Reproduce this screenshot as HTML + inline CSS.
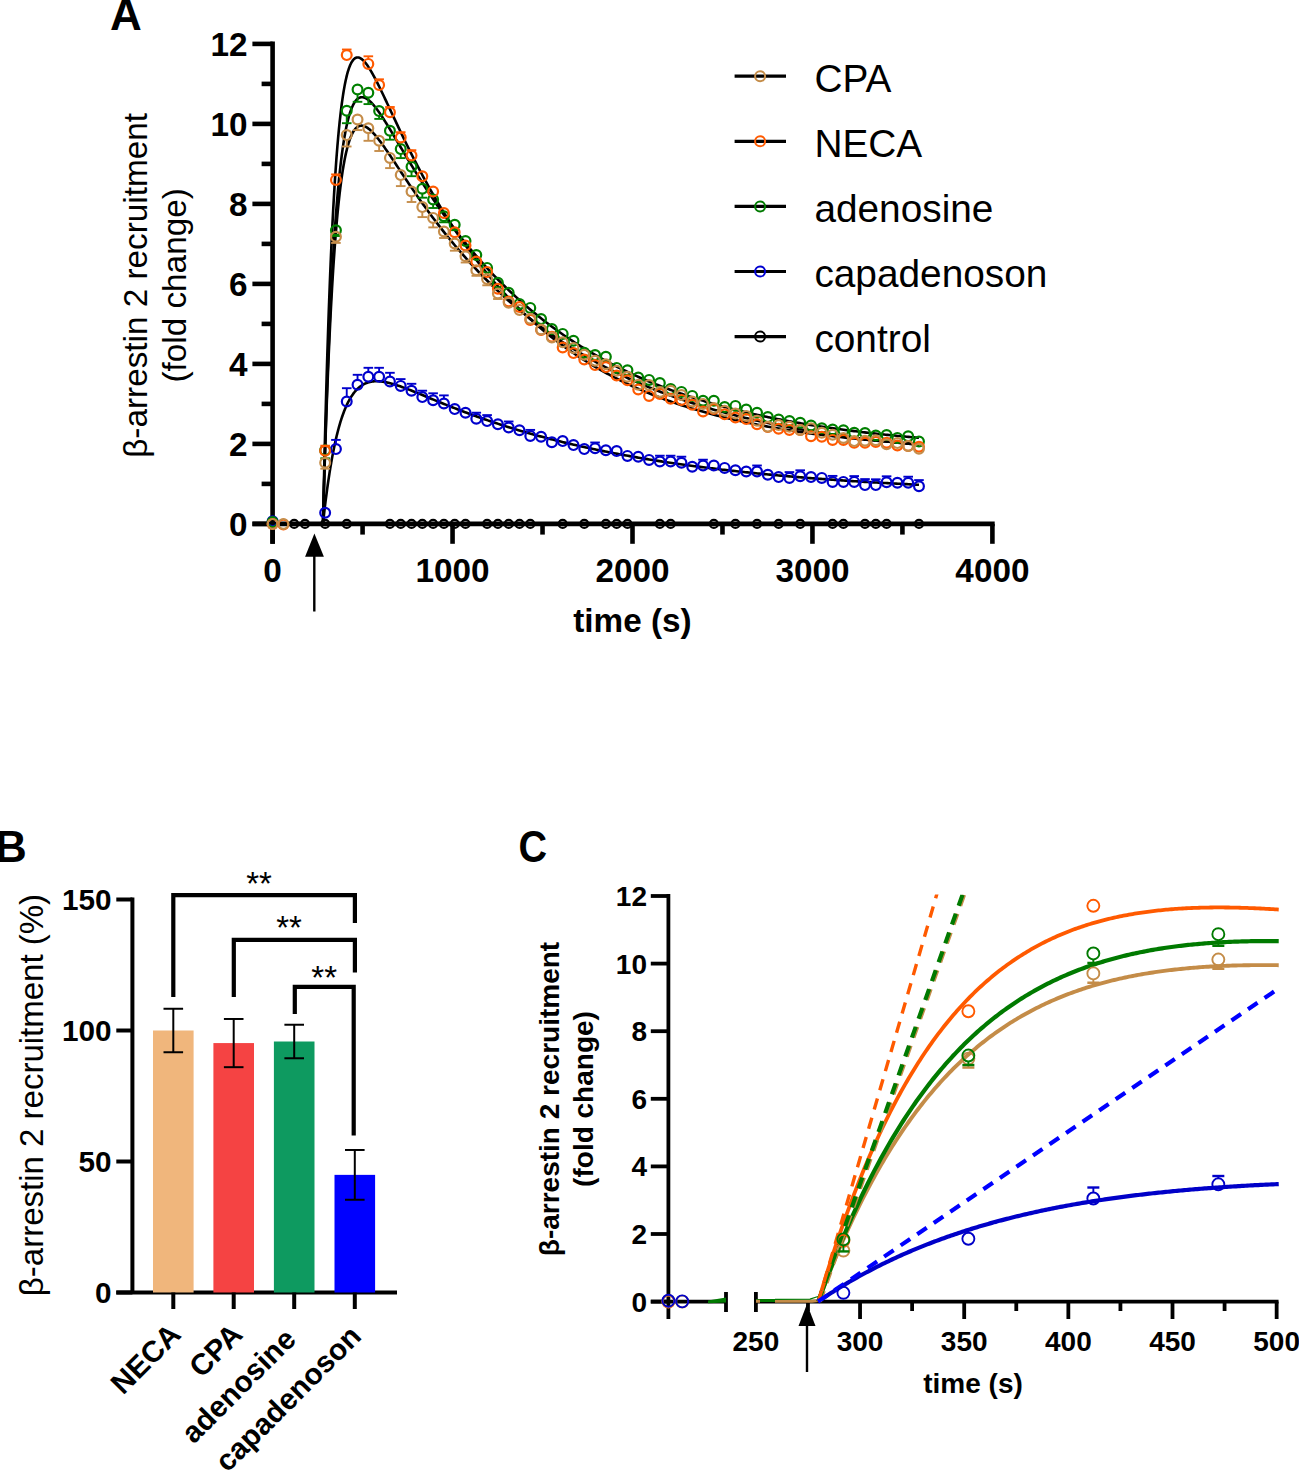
<!DOCTYPE html>
<html><head><meta charset="utf-8"><style>
html,body{margin:0;padding:0;background:#fff;}
svg{display:block;}
text{font-family:"Liberation Sans", sans-serif;fill:#000;}
</style></head><body>
<svg width="1299" height="1470" viewBox="0 0 1299 1470">
<text x="110.1" y="29.9" font-size="44" font-weight="bold">A</text>
<line x1="272.6" y1="41.59999999999998" x2="272.6" y2="543.8" stroke="#000" stroke-width="4.6"/>
<line x1="252.4" y1="523.9" x2="272.6" y2="523.9" stroke="#000" stroke-width="4.6"/>
<text x="247.5" y="535.6999999999999" font-size="33.3" font-weight="bold" text-anchor="end">0</text>
<line x1="261.6" y1="483.9" x2="272.6" y2="483.9" stroke="#000" stroke-width="4.6"/>
<line x1="252.4" y1="443.9" x2="272.6" y2="443.9" stroke="#000" stroke-width="4.6"/>
<text x="247.5" y="455.7" font-size="33.3" font-weight="bold" text-anchor="end">2</text>
<line x1="261.6" y1="403.9" x2="272.6" y2="403.9" stroke="#000" stroke-width="4.6"/>
<line x1="252.4" y1="363.9" x2="272.6" y2="363.9" stroke="#000" stroke-width="4.6"/>
<text x="247.5" y="375.7" font-size="33.3" font-weight="bold" text-anchor="end">4</text>
<line x1="261.6" y1="323.9" x2="272.6" y2="323.9" stroke="#000" stroke-width="4.6"/>
<line x1="252.4" y1="283.9" x2="272.6" y2="283.9" stroke="#000" stroke-width="4.6"/>
<text x="247.5" y="295.7" font-size="33.3" font-weight="bold" text-anchor="end">6</text>
<line x1="261.6" y1="243.89999999999998" x2="272.6" y2="243.89999999999998" stroke="#000" stroke-width="4.6"/>
<line x1="252.4" y1="203.89999999999998" x2="272.6" y2="203.89999999999998" stroke="#000" stroke-width="4.6"/>
<text x="247.5" y="215.7" font-size="33.3" font-weight="bold" text-anchor="end">8</text>
<line x1="261.6" y1="163.89999999999998" x2="272.6" y2="163.89999999999998" stroke="#000" stroke-width="4.6"/>
<line x1="252.4" y1="123.89999999999998" x2="272.6" y2="123.89999999999998" stroke="#000" stroke-width="4.6"/>
<text x="247.5" y="135.7" font-size="33.3" font-weight="bold" text-anchor="end">10</text>
<line x1="261.6" y1="83.89999999999998" x2="272.6" y2="83.89999999999998" stroke="#000" stroke-width="4.6"/>
<line x1="252.4" y1="43.89999999999998" x2="272.6" y2="43.89999999999998" stroke="#000" stroke-width="4.6"/>
<text x="247.5" y="55.699999999999974" font-size="33.3" font-weight="bold" text-anchor="end">12</text>
<line x1="252.4" y1="523.9" x2="994.6999999999999" y2="523.9" stroke="#000" stroke-width="4.6"/>
<line x1="272.6" y1="523.9" x2="272.6" y2="543.8" stroke="#000" stroke-width="4.6"/>
<text x="272.6" y="582" font-size="33.3" font-weight="bold" text-anchor="middle">0</text>
<line x1="362.57500000000005" y1="523.9" x2="362.57500000000005" y2="534.6" stroke="#000" stroke-width="4.6"/>
<line x1="452.55" y1="523.9" x2="452.55" y2="543.8" stroke="#000" stroke-width="4.6"/>
<text x="452.55" y="582" font-size="33.3" font-weight="bold" text-anchor="middle">1000</text>
<line x1="542.5250000000001" y1="523.9" x2="542.5250000000001" y2="534.6" stroke="#000" stroke-width="4.6"/>
<line x1="632.5" y1="523.9" x2="632.5" y2="543.8" stroke="#000" stroke-width="4.6"/>
<text x="632.5" y="582" font-size="33.3" font-weight="bold" text-anchor="middle">2000</text>
<line x1="722.475" y1="523.9" x2="722.475" y2="534.6" stroke="#000" stroke-width="4.6"/>
<line x1="812.45" y1="523.9" x2="812.45" y2="543.8" stroke="#000" stroke-width="4.6"/>
<text x="812.45" y="582" font-size="33.3" font-weight="bold" text-anchor="middle">3000</text>
<line x1="902.4250000000001" y1="523.9" x2="902.4250000000001" y2="534.6" stroke="#000" stroke-width="4.6"/>
<line x1="992.4" y1="523.9" x2="992.4" y2="543.8" stroke="#000" stroke-width="4.6"/>
<text x="992.4" y="582" font-size="33.3" font-weight="bold" text-anchor="middle">4000</text>
<text x="632.5" y="631.5" font-size="33.3" font-weight="bold" text-anchor="middle">time (s)</text>
<text transform="translate(146.6,285.4) rotate(-90)" font-size="33.3" text-anchor="middle">β-arrestin 2 recruitment</text>
<text transform="translate(186.4,285.4) rotate(-90)" font-size="33.3" text-anchor="middle">(fold change)</text>
<line x1="314.3" y1="552" x2="314.3" y2="611.5" stroke="#000" stroke-width="2.4"/>
<polygon points="314.4,533.6 305.1,556.8 323.9,556.8" fill="#000"/>
<line x1="734.6" y1="76.19999999999999" x2="786" y2="76.19999999999999" stroke="#000" stroke-width="3.2"/>
<circle cx="760.1" cy="76.19999999999999" r="5" fill="none" stroke="#C48C48" stroke-width="2"/>
<text x="814.4" y="91.6" font-size="38.8">CPA</text>
<line x1="734.6" y1="141.29999999999998" x2="786" y2="141.29999999999998" stroke="#000" stroke-width="3.2"/>
<circle cx="760.1" cy="141.29999999999998" r="5" fill="none" stroke="#FF5A00" stroke-width="2"/>
<text x="814.4" y="156.7" font-size="38.8">NECA</text>
<line x1="734.6" y1="206.39999999999998" x2="786" y2="206.39999999999998" stroke="#000" stroke-width="3.2"/>
<circle cx="760.1" cy="206.39999999999998" r="5" fill="none" stroke="#007A00" stroke-width="2"/>
<text x="814.4" y="221.79999999999998" font-size="38.8">adenosine</text>
<line x1="734.6" y1="271.5" x2="786" y2="271.5" stroke="#000" stroke-width="3.2"/>
<circle cx="760.1" cy="271.5" r="5" fill="none" stroke="#0000D0" stroke-width="2"/>
<text x="814.4" y="286.9" font-size="38.8">capadenoson</text>
<line x1="734.6" y1="336.6" x2="786" y2="336.6" stroke="#000" stroke-width="3.2"/>
<circle cx="760.1" cy="336.6" r="5" fill="none" stroke="#000000" stroke-width="2"/>
<text x="814.4" y="352.0" font-size="38.8">control</text>
<text x="-5.1" y="862.3" font-size="44" font-weight="bold">B</text>
<line x1="132.4" y1="897.5" x2="132.4" y2="1292.5" stroke="#000" stroke-width="4.0"/>
<line x1="116.3" y1="1292.5" x2="132.4" y2="1292.5" stroke="#000" stroke-width="4.0"/>
<text x="111.5" y="1303.0" font-size="29.7" font-weight="bold" text-anchor="end">0</text>
<line x1="116.3" y1="1161.5" x2="132.4" y2="1161.5" stroke="#000" stroke-width="4.0"/>
<text x="111.5" y="1172.0" font-size="29.7" font-weight="bold" text-anchor="end">50</text>
<line x1="116.3" y1="1030.5" x2="132.4" y2="1030.5" stroke="#000" stroke-width="4.0"/>
<text x="111.5" y="1041.0" font-size="29.7" font-weight="bold" text-anchor="end">100</text>
<line x1="116.3" y1="899.5" x2="132.4" y2="899.5" stroke="#000" stroke-width="4.0"/>
<text x="111.5" y="910.0" font-size="29.7" font-weight="bold" text-anchor="end">150</text>
<line x1="116.3" y1="1292.5" x2="397" y2="1292.5" stroke="#000" stroke-width="4.0"/>
<rect x="153.0" y="1030.5" width="40.6" height="262.0" fill="#F0B67C"/>
<rect x="213.39999999999998" y="1043.076" width="40.6" height="249.42399999999998" fill="#F54343"/>
<rect x="273.9" y="1041.504" width="40.6" height="250.9960000000001" fill="#0E9A60"/>
<rect x="334.5" y="1174.862" width="40.6" height="117.63799999999992" fill="#0000FF"/>
<line x1="173.3" y1="1008.754" x2="173.3" y2="1052.246" stroke="#000" stroke-width="2"/>
<line x1="163.5" y1="1008.754" x2="183.10000000000002" y2="1008.754" stroke="#000" stroke-width="2"/>
<line x1="163.5" y1="1052.246" x2="183.10000000000002" y2="1052.246" stroke="#000" stroke-width="2"/>
<line x1="173.3" y1="1292.5" x2="173.3" y2="1309" stroke="#000" stroke-width="4.0"/>
<line x1="233.7" y1="1018.972" x2="233.7" y2="1067.18" stroke="#000" stroke-width="2"/>
<line x1="223.89999999999998" y1="1018.972" x2="243.5" y2="1018.972" stroke="#000" stroke-width="2"/>
<line x1="223.89999999999998" y1="1067.18" x2="243.5" y2="1067.18" stroke="#000" stroke-width="2"/>
<line x1="233.7" y1="1292.5" x2="233.7" y2="1309" stroke="#000" stroke-width="4.0"/>
<line x1="294.2" y1="1024.7359999999999" x2="294.2" y2="1058.272" stroke="#000" stroke-width="2"/>
<line x1="284.4" y1="1024.7359999999999" x2="304.0" y2="1024.7359999999999" stroke="#000" stroke-width="2"/>
<line x1="284.4" y1="1058.272" x2="304.0" y2="1058.272" stroke="#000" stroke-width="2"/>
<line x1="294.2" y1="1292.5" x2="294.2" y2="1309" stroke="#000" stroke-width="4.0"/>
<line x1="354.8" y1="1149.972" x2="354.8" y2="1199.752" stroke="#000" stroke-width="2"/>
<line x1="345.0" y1="1149.972" x2="364.6" y2="1149.972" stroke="#000" stroke-width="2"/>
<line x1="345.0" y1="1199.752" x2="364.6" y2="1199.752" stroke="#000" stroke-width="2"/>
<line x1="354.8" y1="1292.5" x2="354.8" y2="1309" stroke="#000" stroke-width="4.0"/>
<polyline points="173.3,997 173.3,895.2 354.9,895.2 354.9,923" fill="none" stroke="#000" stroke-width="4.2" stroke-linejoin="miter" stroke-linecap="butt"/>
<polyline points="233.8,997 233.8,939.8 354.9,939.8 354.9,972.4" fill="none" stroke="#000" stroke-width="4.2" stroke-linejoin="miter" stroke-linecap="butt"/>
<polyline points="294.8,1014 294.8,986.8 353.7,986.8 353.7,1135.6" fill="none" stroke="#000" stroke-width="4.2" stroke-linejoin="miter" stroke-linecap="butt"/>
<text x="259" y="895" font-size="33" text-anchor="middle">**</text>
<text x="289" y="939" font-size="33" text-anchor="middle">**</text>
<text x="324.2" y="989" font-size="33" text-anchor="middle">**</text>
<text transform="translate(43.1,1095) rotate(-90)" font-size="33" text-anchor="middle">β-arrestin 2 recruitment (%)</text>
<text transform="translate(182.5,1336.2) rotate(-45)" font-size="29.7" font-weight="bold" text-anchor="end">NECA</text>
<text transform="translate(244.2,1336.2) rotate(-45)" font-size="29.7" font-weight="bold" text-anchor="end">CPA</text>
<text transform="translate(297.6,1341.0) rotate(-45)" font-size="29.7" font-weight="bold" text-anchor="end">adenosine</text>
<text transform="translate(362.8,1338.0) rotate(-45)" font-size="29.7" font-weight="bold" text-anchor="end">capadenoson</text>
<text transform="translate(518.4,861.7) scale(0.91,1)" font-size="43.5" font-weight="bold">C</text>
<line x1="668.4" y1="894.1" x2="668.4" y2="1319" stroke="#000" stroke-width="3.8"/>
<line x1="650.8" y1="1301.6" x2="668.4" y2="1301.6" stroke="#000" stroke-width="3.8"/>
<text x="647" y="1311.6" font-size="28" font-weight="bold" text-anchor="end">0</text>
<line x1="650.8" y1="1234.0" x2="668.4" y2="1234.0" stroke="#000" stroke-width="3.8"/>
<text x="647" y="1244.0" font-size="28" font-weight="bold" text-anchor="end">2</text>
<line x1="650.8" y1="1166.3999999999999" x2="668.4" y2="1166.3999999999999" stroke="#000" stroke-width="3.8"/>
<text x="647" y="1176.3999999999999" font-size="28" font-weight="bold" text-anchor="end">4</text>
<line x1="650.8" y1="1098.8" x2="668.4" y2="1098.8" stroke="#000" stroke-width="3.8"/>
<text x="647" y="1108.8" font-size="28" font-weight="bold" text-anchor="end">6</text>
<line x1="650.8" y1="1031.1999999999998" x2="668.4" y2="1031.1999999999998" stroke="#000" stroke-width="3.8"/>
<text x="647" y="1041.1999999999998" font-size="28" font-weight="bold" text-anchor="end">8</text>
<line x1="650.8" y1="963.5999999999999" x2="668.4" y2="963.5999999999999" stroke="#000" stroke-width="3.8"/>
<text x="647" y="973.5999999999999" font-size="28" font-weight="bold" text-anchor="end">10</text>
<line x1="650.8" y1="896.0" x2="668.4" y2="896.0" stroke="#000" stroke-width="3.8"/>
<text x="647" y="906.0" font-size="28" font-weight="bold" text-anchor="end">12</text>
<line x1="650.8" y1="1301.6" x2="726" y2="1301.6" stroke="#000" stroke-width="3.8"/>
<line x1="726" y1="1292" x2="726" y2="1312" stroke="#000" stroke-width="3.8"/>
<line x1="755.9" y1="1292" x2="755.9" y2="1312" stroke="#000" stroke-width="3.8"/>
<line x1="755.9" y1="1301.6" x2="1278.5500000000002" y2="1301.6" stroke="#000" stroke-width="3.8"/>
<line x1="807.975" y1="1301.6" x2="807.975" y2="1311" stroke="#000" stroke-width="3.8"/>
<line x1="860.05" y1="1301.6" x2="860.05" y2="1319" stroke="#000" stroke-width="3.8"/>
<line x1="912.125" y1="1301.6" x2="912.125" y2="1311" stroke="#000" stroke-width="3.8"/>
<line x1="964.2" y1="1301.6" x2="964.2" y2="1319" stroke="#000" stroke-width="3.8"/>
<line x1="1016.275" y1="1301.6" x2="1016.275" y2="1311" stroke="#000" stroke-width="3.8"/>
<line x1="1068.35" y1="1301.6" x2="1068.35" y2="1319" stroke="#000" stroke-width="3.8"/>
<line x1="1120.425" y1="1301.6" x2="1120.425" y2="1311" stroke="#000" stroke-width="3.8"/>
<line x1="1172.5" y1="1301.6" x2="1172.5" y2="1319" stroke="#000" stroke-width="3.8"/>
<line x1="1224.575" y1="1301.6" x2="1224.575" y2="1311" stroke="#000" stroke-width="3.8"/>
<line x1="1276.65" y1="1301.6" x2="1276.65" y2="1319" stroke="#000" stroke-width="3.8"/>
<text x="755.9" y="1350.9" font-size="28" font-weight="bold" text-anchor="middle">250</text>
<text x="860.05" y="1350.9" font-size="28" font-weight="bold" text-anchor="middle">300</text>
<text x="964.2" y="1350.9" font-size="28" font-weight="bold" text-anchor="middle">350</text>
<text x="1068.35" y="1350.9" font-size="28" font-weight="bold" text-anchor="middle">400</text>
<text x="1172.5" y="1350.9" font-size="28" font-weight="bold" text-anchor="middle">450</text>
<text x="1276.65" y="1350.9" font-size="28" font-weight="bold" text-anchor="middle">500</text>
<text x="973" y="1393" font-size="28" font-weight="bold" text-anchor="middle">time (s)</text>
<text transform="translate(559,1099) rotate(-90)" font-size="28" font-weight="bold" text-anchor="middle">β-arrestin 2 recruitment</text>
<text transform="translate(593,1099) rotate(-90)" font-size="28" font-weight="bold" text-anchor="middle">(fold change)</text>
<line x1="807" y1="1320" x2="807" y2="1372" stroke="#000" stroke-width="2.4"/>
<polygon points="807,1304 798.5,1326 815.5,1326" fill="#000"/>
<polyline points="322.99,523.90 323.35,507.12 323.71,490.88 324.07,475.14 324.43,459.91 324.79,445.16 325.16,430.88 325.52,417.05 325.88,403.67 326.24,390.71 326.60,378.18 326.96,366.04 327.33,354.30 327.69,342.94 328.05,331.95 328.41,321.31 328.77,311.03 329.14,301.08 329.50,291.46 329.86,282.15 330.22,273.16 330.58,264.46 330.94,256.05 331.31,247.93 331.67,240.07 332.03,232.49 332.39,225.16 332.75,218.07 333.11,211.24 333.48,204.63 333.84,198.25 334.20,192.10 334.56,186.16 334.92,180.43 335.28,174.89 335.65,169.56 336.01,164.41 336.37,159.45 336.73,154.67 337.09,150.06 337.45,145.62 337.82,141.35 338.18,137.23 338.54,133.26 338.90,129.45 339.26,125.77 339.62,122.24 339.99,118.85 340.35,115.59 340.71,112.45 341.07,109.44 341.43,106.55 341.79,103.78 342.16,101.11 342.52,98.56 342.88,96.12 343.24,93.78 343.60,91.54 343.97,89.40 344.33,87.35 344.69,85.39 345.05,83.52 345.41,81.74 345.77,80.04 346.14,78.42 346.50,76.88 346.86,75.41 347.22,74.02 347.58,72.70 347.94,71.45 348.31,70.27 348.67,69.15 349.03,68.10 349.39,67.10 349.75,66.17 350.11,65.29 350.48,64.47 350.84,63.71 351.20,62.99 351.56,62.33 351.92,61.71 352.28,61.15 352.65,60.63 353.01,60.15 353.37,59.72 353.73,59.33 354.09,58.98 354.45,58.67 354.82,58.39 355.18,58.16 355.54,57.96 355.90,57.79 356.26,57.66 356.62,57.56 356.99,57.50 357.35,57.46 357.71,57.45 358.07,57.48 358.43,57.52 358.80,57.60 359.16,57.70 359.52,57.83 359.88,57.98 360.24,58.16 360.60,58.36 360.97,58.58 361.33,58.82 361.69,59.08 362.05,59.36 362.41,59.66 362.77,59.98 363.14,60.32 363.50,60.68 363.86,61.05 364.22,61.44 364.58,61.84 364.94,62.26 365.31,62.70 365.67,63.15 366.03,63.61 366.39,64.09 366.75,64.57 367.11,65.07 367.48,65.59 367.84,66.11 368.20,66.65 368.56,67.19 368.92,67.75 369.28,68.32 369.65,68.89 370.01,69.48 370.37,70.07 370.73,70.68 371.09,71.29 371.45,71.91 371.82,72.53 372.18,73.17 372.54,73.81 372.90,74.46 373.26,75.11 373.63,75.78 373.99,76.44 374.35,77.12 374.71,77.80 375.07,78.48 375.43,79.17 375.80,79.86 376.16,80.56 376.52,81.27 376.88,81.97 377.24,82.69 377.60,83.40 377.97,84.12 378.33,84.85 378.69,85.57 379.05,86.30 379.41,87.04 379.77,87.77 380.14,88.51 380.50,89.25 380.86,90.00 381.22,90.75 381.58,91.49 381.94,92.25 382.31,93.00 382.67,93.75 383.03,94.51 383.39,95.27 383.75,96.03 384.11,96.79 384.48,97.56 384.84,98.32 385.20,99.09 385.56,99.85 385.92,100.62 386.28,101.39 386.65,102.16 387.01,102.93 387.37,103.70 387.73,104.47 388.09,105.24 388.46,106.02 388.82,106.79 389.18,107.56 389.54,108.34 389.90,109.11 390.26,109.88 390.63,110.66 390.99,111.43 391.35,112.20 391.71,112.98 392.07,113.75 392.43,114.52 392.80,115.30 393.16,116.07 393.52,116.84 393.88,117.61 394.24,118.39 394.60,119.16 394.97,119.93 396.72,123.65 398.47,127.36 400.22,131.05 401.98,134.71 403.73,138.35 405.48,141.96 407.23,145.54 408.99,149.09 410.74,152.61 412.49,156.09 414.24,159.54 416.00,162.96 417.75,166.34 419.50,169.69 421.25,173.00 423.01,176.28 424.76,179.52 426.51,182.73 428.26,185.90 430.02,189.03 431.77,192.13 433.52,195.20 435.27,198.23 437.03,201.22 438.78,204.19 440.53,207.11 442.29,210.01 444.04,212.87 445.79,215.69 447.54,218.49 449.30,221.25 451.05,223.98 452.80,226.68 454.55,229.35 456.31,231.98 458.06,234.59 459.81,237.16 461.56,239.71 463.32,242.22 465.07,244.71 466.82,247.16 468.57,249.59 470.33,251.99 472.08,254.36 473.83,256.70 475.58,259.02 477.34,261.30 479.09,263.57 480.84,265.80 482.59,268.01 484.35,270.19 486.10,272.35 487.85,274.48 489.60,276.59 491.36,278.67 493.11,280.73 494.86,282.76 496.61,284.77 498.37,286.75 500.12,288.72 501.87,290.66 503.62,292.57 505.38,294.47 507.13,296.34 508.88,298.19 510.63,300.02 512.39,301.82 514.14,303.61 515.89,305.37 517.64,307.12 519.40,308.84 521.15,310.54 522.90,312.23 524.66,313.89 526.41,315.53 528.16,317.16 529.91,318.76 531.67,320.35 533.42,321.91 535.17,323.46 536.92,325.00 538.68,326.51 540.43,328.00 542.18,329.48 543.93,330.94 545.69,332.38 547.44,333.81 549.19,335.22 550.94,336.61 552.70,337.99 554.45,339.35 556.20,340.69 557.95,342.02 559.71,343.34 561.46,344.63 563.21,345.92 564.96,347.18 566.72,348.43 568.47,349.67 570.22,350.89 571.97,352.10 573.73,353.30 575.48,354.48 577.23,355.64 578.98,356.80 580.74,357.94 582.49,359.06 584.24,360.18 585.99,361.27 587.75,362.36 589.50,363.44 591.25,364.50 593.00,365.55 594.76,366.58 596.51,367.61 598.26,368.62 600.02,369.62 601.77,370.61 603.52,371.58 605.27,372.55 607.03,373.50 608.78,374.45 610.53,375.38 612.28,376.30 614.04,377.21 615.79,378.11 617.54,379.00 619.29,379.88 621.05,380.74 622.80,381.60 624.55,382.45 626.30,383.29 628.06,384.12 629.81,384.93 631.56,385.74 633.31,386.54 635.07,387.33 636.82,388.11 638.57,388.88 640.32,389.64 642.08,390.40 643.83,391.14 645.58,391.88 647.33,392.60 649.09,393.32 650.84,394.03 652.59,394.73 654.34,395.43 656.10,396.11 657.85,396.79 659.60,397.46 661.35,398.12 663.11,398.77 664.86,399.42 666.61,400.06 668.36,400.69 670.12,401.31 671.87,401.93 673.62,402.54 675.38,403.14 677.13,403.73 678.88,404.32 680.63,404.90 682.39,405.48 684.14,406.04 685.89,406.60 687.64,407.16 689.40,407.71 691.15,408.25 692.90,408.78 694.65,409.31 696.41,409.83 698.16,410.35 699.91,410.86 701.66,411.36 703.42,411.86 705.17,412.35 706.92,412.84 708.67,413.32 710.43,413.79 712.18,414.26 713.93,414.73 715.68,415.18 717.44,415.64 719.19,416.09 720.94,416.53 722.69,416.97 724.45,417.40 726.20,417.82 727.95,418.25 729.70,418.66 731.46,419.08 733.21,419.48 734.96,419.89 736.71,420.28 738.47,420.68 740.22,421.06 741.97,421.45 743.72,421.83 745.48,422.20 747.23,422.57 748.98,422.94 750.73,423.30 752.49,423.66 754.24,424.01 755.99,424.36 757.75,424.71 759.50,425.05 761.25,425.39 763.00,425.72 764.76,426.05 766.51,426.37 768.26,426.69 770.01,427.01 771.77,427.33 773.52,427.64 775.27,427.94 777.02,428.25 778.78,428.55 780.53,428.84 782.28,429.13 784.03,429.42 785.79,429.71 787.54,429.99 789.29,430.27 791.04,430.55 792.80,430.82 794.55,431.09 796.30,431.35 798.05,431.62 799.81,431.88 801.56,432.13 803.31,432.39 805.06,432.64 806.82,432.89 808.57,433.13 810.32,433.37 812.07,433.61 813.83,433.85 815.58,434.08 817.33,434.31 819.08,434.54 820.84,434.77 822.59,434.99 824.34,435.21 826.09,435.43 827.85,435.64 829.60,435.86 831.35,436.07 833.11,436.27 834.86,436.48 836.61,436.68 838.36,436.88 840.12,437.08 841.87,437.28 843.62,437.47 845.37,437.66 847.13,437.85 848.88,438.04 850.63,438.22 852.38,438.40 854.14,438.58 855.89,438.76 857.64,438.94 859.39,439.11 861.15,439.28 862.90,439.45 864.65,439.62 866.40,439.79 868.16,439.95 869.91,440.11 871.66,440.27 873.41,440.43 875.17,440.59 876.92,440.74 878.67,440.89 880.42,441.05 882.18,441.19 883.93,441.34 885.68,441.49 887.43,441.63 889.19,441.77 890.94,441.91 892.69,442.05 894.44,442.19 896.20,442.33 897.95,442.46 899.70,442.59 901.45,442.72 903.21,442.85 904.96,442.98 906.71,443.11 908.47,443.23 910.22,443.36 911.97,443.48 913.72,443.60 915.48,443.72 917.23,443.83 918.98,443.95" fill="none" stroke="#000" stroke-width="2.6" stroke-linejoin="round"/>
<polyline points="322.99,523.90 323.35,510.11 323.71,496.72 324.07,483.71 324.43,471.07 324.79,458.79 325.16,446.86 325.52,435.28 325.88,424.03 326.24,413.10 326.60,402.49 326.96,392.18 327.33,382.18 327.69,372.47 328.05,363.04 328.41,353.88 328.77,344.99 329.14,336.37 329.50,328.00 329.86,319.87 330.22,311.99 330.58,304.34 330.94,296.92 331.31,289.72 331.67,282.73 332.03,275.96 332.39,269.39 332.75,263.02 333.11,256.84 333.48,250.85 333.84,245.05 334.20,239.42 334.56,233.97 334.92,228.68 335.28,223.56 335.65,218.60 336.01,213.79 336.37,209.14 336.73,204.63 337.09,200.27 337.45,196.05 337.82,191.96 338.18,188.00 338.54,184.18 338.90,180.48 339.26,176.89 339.62,173.43 339.99,170.09 340.35,166.85 340.71,163.72 341.07,160.70 341.43,157.79 341.79,154.97 342.16,152.25 342.52,149.63 342.88,147.10 343.24,144.66 343.60,142.30 343.97,140.03 344.33,137.85 344.69,135.74 345.05,133.72 345.41,131.77 345.77,129.89 346.14,128.09 346.50,126.35 346.86,124.69 347.22,123.09 347.58,121.55 347.94,120.08 348.31,118.67 348.67,117.32 349.03,116.02 349.39,114.79 349.75,113.60 350.11,112.47 350.48,111.40 350.84,110.37 351.20,109.39 351.56,108.46 351.92,107.57 352.28,106.73 352.65,105.94 353.01,105.18 353.37,104.47 353.73,103.80 354.09,103.16 354.45,102.57 354.82,102.01 355.18,101.49 355.54,101.00 355.90,100.55 356.26,100.13 356.62,99.74 356.99,99.38 357.35,99.05 357.71,98.76 358.07,98.49 358.43,98.25 358.80,98.03 359.16,97.84 359.52,97.68 359.88,97.54 360.24,97.43 360.60,97.34 360.97,97.27 361.33,97.23 361.69,97.20 362.05,97.20 362.41,97.22 362.77,97.26 363.14,97.31 363.50,97.39 363.86,97.48 364.22,97.59 364.58,97.72 364.94,97.86 365.31,98.02 365.67,98.19 366.03,98.38 366.39,98.59 366.75,98.81 367.11,99.04 367.48,99.29 367.84,99.55 368.20,99.82 368.56,100.10 368.92,100.40 369.28,100.71 369.65,101.02 370.01,101.35 370.37,101.69 370.73,102.04 371.09,102.40 371.45,102.77 371.82,103.15 372.18,103.54 372.54,103.93 372.90,104.34 373.26,104.75 373.63,105.17 373.99,105.60 374.35,106.04 374.71,106.48 375.07,106.93 375.43,107.39 375.80,107.85 376.16,108.32 376.52,108.79 376.88,109.27 377.24,109.76 377.60,110.25 377.97,110.75 378.33,111.25 378.69,111.76 379.05,112.27 379.41,112.79 379.77,113.31 380.14,113.84 380.50,114.37 380.86,114.90 381.22,115.44 381.58,115.98 381.94,116.53 382.31,117.07 382.67,117.63 383.03,118.18 383.39,118.74 383.75,119.30 384.11,119.86 384.48,120.43 384.84,121.00 385.20,121.57 385.56,122.14 385.92,122.72 386.28,123.30 386.65,123.88 387.01,124.46 387.37,125.05 387.73,125.63 388.09,126.22 388.46,126.81 388.82,127.40 389.18,127.99 389.54,128.59 389.90,129.18 390.26,129.78 390.63,130.38 390.99,130.97 391.35,131.57 391.71,132.18 392.07,132.78 392.43,133.38 392.80,133.98 393.16,134.59 393.52,135.19 393.88,135.80 394.24,136.40 394.60,137.01 394.97,137.62 396.72,140.57 398.47,143.52 400.22,146.47 401.98,149.42 403.73,152.37 405.48,155.31 407.23,158.23 408.99,161.14 410.74,164.03 412.49,166.91 414.24,169.77 416.00,172.61 417.75,175.43 419.50,178.22 421.25,181.00 423.01,183.75 424.76,186.48 426.51,189.18 428.26,191.86 430.02,194.52 431.77,197.15 433.52,199.76 435.27,202.34 437.03,204.90 438.78,207.43 440.53,209.94 442.29,212.43 444.04,214.89 445.79,217.32 447.54,219.74 449.30,222.12 451.05,224.49 452.80,226.83 454.55,229.14 456.31,231.44 458.06,233.71 459.81,235.95 461.56,238.18 463.32,240.38 465.07,242.56 466.82,244.72 468.57,246.85 470.33,248.97 472.08,251.06 473.83,253.13 475.58,255.18 477.34,257.20 479.09,259.21 480.84,261.20 482.59,263.16 484.35,265.11 486.10,267.04 487.85,268.94 489.60,270.83 491.36,272.70 493.11,274.54 494.86,276.37 496.61,278.18 498.37,279.97 500.12,281.75 501.87,283.50 503.62,285.24 505.38,286.96 507.13,288.66 508.88,290.34 510.63,292.01 512.39,293.66 514.14,295.29 515.89,296.91 517.64,298.51 519.40,300.09 521.15,301.65 522.90,303.20 524.66,304.74 526.41,306.26 528.16,307.76 529.91,309.25 531.67,310.72 533.42,312.17 535.17,313.62 536.92,315.04 538.68,316.46 540.43,317.85 542.18,319.24 543.93,320.61 545.69,321.96 547.44,323.30 549.19,324.63 550.94,325.94 552.70,327.24 554.45,328.53 556.20,329.80 557.95,331.06 559.71,332.31 561.46,333.54 563.21,334.76 564.96,335.97 566.72,337.17 568.47,338.35 570.22,339.53 571.97,340.69 573.73,341.83 575.48,342.97 577.23,344.10 578.98,345.21 580.74,346.31 582.49,347.40 584.24,348.48 585.99,349.55 587.75,350.60 589.50,351.65 591.25,352.68 593.00,353.71 594.76,354.72 596.51,355.73 598.26,356.72 600.02,357.70 601.77,358.68 603.52,359.64 605.27,360.59 607.03,361.53 608.78,362.47 610.53,363.39 612.28,364.31 614.04,365.21 615.79,366.11 617.54,366.99 619.29,367.87 621.05,368.74 622.80,369.60 624.55,370.45 626.30,371.29 628.06,372.12 629.81,372.95 631.56,373.76 633.31,374.57 635.07,375.37 636.82,376.16 638.57,376.94 640.32,377.72 642.08,378.48 643.83,379.24 645.58,379.99 647.33,380.74 649.09,381.47 650.84,382.20 652.59,382.92 654.34,383.63 656.10,384.34 657.85,385.04 659.60,385.73 661.35,386.41 663.11,387.09 664.86,387.76 666.61,388.43 668.36,389.08 670.12,389.73 671.87,390.37 673.62,391.01 675.38,391.64 677.13,392.26 678.88,392.88 680.63,393.49 682.39,394.10 684.14,394.69 685.89,395.29 687.64,395.87 689.40,396.45 691.15,397.03 692.90,397.59 694.65,398.16 696.41,398.71 698.16,399.26 699.91,399.81 701.66,400.35 703.42,400.88 705.17,401.41 706.92,401.93 708.67,402.45 710.43,402.96 712.18,403.47 713.93,403.97 715.68,404.47 717.44,404.96 719.19,405.44 720.94,405.92 722.69,406.40 724.45,406.87 726.20,407.34 727.95,407.80 729.70,408.26 731.46,408.71 733.21,409.16 734.96,409.60 736.71,410.04 738.47,410.47 740.22,410.90 741.97,411.33 743.72,411.75 745.48,412.16 747.23,412.58 748.98,412.98 750.73,413.39 752.49,413.79 754.24,414.18 755.99,414.57 757.75,414.96 759.50,415.34 761.25,415.72 763.00,416.10 764.76,416.47 766.51,416.84 768.26,417.20 770.01,417.56 771.77,417.92 773.52,418.27 775.27,418.62 777.02,418.96 778.78,419.31 780.53,419.65 782.28,419.98 784.03,420.31 785.79,420.64 787.54,420.96 789.29,421.29 791.04,421.60 792.80,421.92 794.55,422.23 796.30,422.54 798.05,422.84 799.81,423.15 801.56,423.44 803.31,423.74 805.06,424.03 806.82,424.32 808.57,424.61 810.32,424.89 812.07,425.17 813.83,425.45 815.58,425.73 817.33,426.00 819.08,426.27 820.84,426.54 822.59,426.80 824.34,427.06 826.09,427.32 827.85,427.58 829.60,427.83 831.35,428.08 833.11,428.33 834.86,428.57 836.61,428.82 838.36,429.06 840.12,429.30 841.87,429.53 843.62,429.76 845.37,430.00 847.13,430.22 848.88,430.45 850.63,430.67 852.38,430.89 854.14,431.11 855.89,431.33 857.64,431.55 859.39,431.76 861.15,431.97 862.90,432.18 864.65,432.38 866.40,432.59 868.16,432.79 869.91,432.99 871.66,433.18 873.41,433.38 875.17,433.57 876.92,433.77 878.67,433.96 880.42,434.14 882.18,434.33 883.93,434.51 885.68,434.69 887.43,434.87 889.19,435.05 890.94,435.23 892.69,435.40 894.44,435.58 896.20,435.75 897.95,435.92 899.70,436.08 901.45,436.25 903.21,436.41 904.96,436.58 906.71,436.74 908.47,436.89 910.22,437.05 911.97,437.21 913.72,437.36 915.48,437.51 917.23,437.67 918.98,437.81" fill="none" stroke="#000" stroke-width="2.6" stroke-linejoin="round"/>
<polyline points="322.99,523.90 323.35,510.68 323.71,497.85 324.07,485.39 324.43,473.31 324.79,461.58 325.16,450.20 325.52,439.15 325.88,428.44 326.24,418.05 326.60,407.96 326.96,398.18 327.33,388.69 327.69,379.49 328.05,370.56 328.41,361.91 328.77,353.51 329.14,345.37 329.50,337.48 329.86,329.83 330.22,322.42 330.58,315.23 330.94,308.26 331.31,301.51 331.67,294.96 332.03,288.62 332.39,282.48 332.75,276.53 333.11,270.77 333.48,265.18 333.84,259.78 334.20,254.54 334.56,249.47 334.92,244.57 335.28,239.82 335.65,235.22 336.01,230.78 336.37,226.47 336.73,222.31 337.09,218.29 337.45,214.39 337.82,210.63 338.18,206.99 338.54,203.48 338.90,200.08 339.26,196.80 339.62,193.62 339.99,190.56 340.35,187.61 340.71,184.75 341.07,182.00 341.43,179.34 341.79,176.78 342.16,174.31 342.52,171.93 342.88,169.63 343.24,167.42 343.60,165.29 343.97,163.24 344.33,161.27 344.69,159.38 345.05,157.55 345.41,155.80 345.77,154.11 346.14,152.49 346.50,150.94 346.86,149.45 347.22,148.02 347.58,146.66 347.94,145.35 348.31,144.09 348.67,142.89 349.03,141.74 349.39,140.65 349.75,139.60 350.11,138.61 350.48,137.66 350.84,136.76 351.20,135.90 351.56,135.08 351.92,134.31 352.28,133.58 352.65,132.89 353.01,132.24 353.37,131.62 353.73,131.04 354.09,130.50 354.45,129.99 354.82,129.51 355.18,129.07 355.54,128.66 355.90,128.27 356.26,127.92 356.62,127.60 356.99,127.30 357.35,127.04 357.71,126.79 358.07,126.58 358.43,126.39 358.80,126.22 359.16,126.08 359.52,125.96 359.88,125.86 360.24,125.78 360.60,125.72 360.97,125.69 361.33,125.67 361.69,125.67 362.05,125.69 362.41,125.73 362.77,125.79 363.14,125.86 363.50,125.95 363.86,126.06 364.22,126.18 364.58,126.31 364.94,126.46 365.31,126.63 365.67,126.80 366.03,126.99 366.39,127.20 366.75,127.41 367.11,127.64 367.48,127.88 367.84,128.13 368.20,128.39 368.56,128.67 368.92,128.95 369.28,129.24 369.65,129.54 370.01,129.85 370.37,130.17 370.73,130.50 371.09,130.84 371.45,131.19 371.82,131.54 372.18,131.90 372.54,132.27 372.90,132.65 373.26,133.03 373.63,133.42 373.99,133.82 374.35,134.22 374.71,134.63 375.07,135.05 375.43,135.47 375.80,135.89 376.16,136.32 376.52,136.76 376.88,137.20 377.24,137.65 377.60,138.10 377.97,138.55 378.33,139.01 378.69,139.48 379.05,139.95 379.41,140.42 379.77,140.89 380.14,141.37 380.50,141.85 380.86,142.34 381.22,142.83 381.58,143.32 381.94,143.82 382.31,144.31 382.67,144.81 383.03,145.32 383.39,145.82 383.75,146.33 384.11,146.84 384.48,147.35 384.84,147.87 385.20,148.39 385.56,148.90 385.92,149.42 386.28,149.95 386.65,150.47 387.01,151.00 387.37,151.52 387.73,152.05 388.09,152.58 388.46,153.11 388.82,153.65 389.18,154.18 389.54,154.71 389.90,155.25 390.26,155.79 390.63,156.33 390.99,156.86 391.35,157.40 391.71,157.94 392.07,158.49 392.43,159.03 392.80,159.57 393.16,160.11 393.52,160.66 393.88,161.20 394.24,161.74 394.60,162.29 394.97,162.83 396.72,165.48 398.47,168.12 400.22,170.77 401.98,173.41 403.73,176.05 405.48,178.68 407.23,181.30 408.99,183.90 410.74,186.49 412.49,189.07 414.24,191.62 416.00,194.16 417.75,196.69 419.50,199.19 421.25,201.68 423.01,204.14 424.76,206.59 426.51,209.01 428.26,211.42 430.02,213.80 431.77,216.17 433.52,218.51 435.27,220.83 437.03,223.13 438.78,225.41 440.53,227.67 442.29,229.91 444.04,232.13 445.79,234.33 447.54,236.50 449.30,238.66 451.05,240.80 452.80,242.91 454.55,245.01 456.31,247.09 458.06,249.14 459.81,251.18 461.56,253.20 463.32,255.20 465.07,257.18 466.82,259.14 468.57,261.08 470.33,263.01 472.08,264.91 473.83,266.80 475.58,268.67 477.34,270.52 479.09,272.35 480.84,274.17 482.59,275.97 484.35,277.75 486.10,279.51 487.85,281.26 489.60,282.99 491.36,284.70 493.11,286.40 494.86,288.08 496.61,289.75 498.37,291.40 500.12,293.03 501.87,294.65 503.62,296.25 505.38,297.84 507.13,299.41 508.88,300.97 510.63,302.51 512.39,304.04 514.14,305.55 515.89,307.05 517.64,308.53 519.40,310.00 521.15,311.45 522.90,312.89 524.66,314.32 526.41,315.74 528.16,317.14 529.91,318.52 531.67,319.89 533.42,321.26 535.17,322.60 536.92,323.94 538.68,325.26 540.43,326.57 542.18,327.86 543.93,329.15 545.69,330.42 547.44,331.68 549.19,332.92 550.94,334.16 552.70,335.38 554.45,336.59 556.20,337.79 557.95,338.98 559.71,340.16 561.46,341.32 563.21,342.48 564.96,343.62 566.72,344.75 568.47,345.88 570.22,346.99 571.97,348.09 573.73,349.18 575.48,350.25 577.23,351.32 578.98,352.38 580.74,353.43 582.49,354.47 584.24,355.50 585.99,356.51 587.75,357.52 589.50,358.52 591.25,359.51 593.00,360.49 594.76,361.46 596.51,362.42 598.26,363.38 600.02,364.32 601.77,365.25 603.52,366.18 605.27,367.09 607.03,368.00 608.78,368.90 610.53,369.79 612.28,370.67 614.04,371.54 615.79,372.41 617.54,373.26 619.29,374.11 621.05,374.95 622.80,375.78 624.55,376.61 626.30,377.42 628.06,378.23 629.81,379.03 631.56,379.82 633.31,380.61 635.07,381.38 636.82,382.15 638.57,382.92 640.32,383.67 642.08,384.42 643.83,385.16 645.58,385.89 647.33,386.62 649.09,387.34 650.84,388.05 652.59,388.76 654.34,389.46 656.10,390.15 657.85,390.84 659.60,391.52 661.35,392.19 663.11,392.86 664.86,393.52 666.61,394.17 668.36,394.82 670.12,395.46 671.87,396.09 673.62,396.72 675.38,397.34 677.13,397.96 678.88,398.57 680.63,399.18 682.39,399.78 684.14,400.37 685.89,400.96 687.64,401.54 689.40,402.12 691.15,402.69 692.90,403.25 694.65,403.81 696.41,404.37 698.16,404.92 699.91,405.46 701.66,406.00 703.42,406.53 705.17,407.06 706.92,407.59 708.67,408.10 710.43,408.62 712.18,409.13 713.93,409.63 715.68,410.13 717.44,410.62 719.19,411.11 720.94,411.60 722.69,412.08 724.45,412.55 726.20,413.02 727.95,413.49 729.70,413.95 731.46,414.41 733.21,414.86 734.96,415.31 736.71,415.75 738.47,416.19 740.22,416.63 741.97,417.06 743.72,417.49 745.48,417.91 747.23,418.33 748.98,418.75 750.73,419.16 752.49,419.57 754.24,419.97 755.99,420.37 757.75,420.77 759.50,421.16 761.25,421.55 763.00,421.93 764.76,422.31 766.51,422.69 768.26,423.06 770.01,423.43 771.77,423.80 773.52,424.16 775.27,424.52 777.02,424.88 778.78,425.23 780.53,425.58 782.28,425.92 784.03,426.27 785.79,426.61 787.54,426.94 789.29,427.27 791.04,427.60 792.80,427.93 794.55,428.25 796.30,428.57 798.05,428.89 799.81,429.21 801.56,429.52 803.31,429.82 805.06,430.13 806.82,430.43 808.57,430.73 810.32,431.03 812.07,431.32 813.83,431.61 815.58,431.90 817.33,432.18 819.08,432.47 820.84,432.75 822.59,433.02 824.34,433.30 826.09,433.57 827.85,433.84 829.60,434.11 831.35,434.37 833.11,434.63 834.86,434.89 836.61,435.15 838.36,435.40 840.12,435.65 841.87,435.90 843.62,436.15 845.37,436.39 847.13,436.63 848.88,436.87 850.63,437.11 852.38,437.35 854.14,437.58 855.89,437.81 857.64,438.04 859.39,438.26 861.15,438.49 862.90,438.71 864.65,438.93 866.40,439.15 868.16,439.36 869.91,439.58 871.66,439.79 873.41,440.00 875.17,440.21 876.92,440.41 878.67,440.61 880.42,440.82 882.18,441.02 883.93,441.21 885.68,441.41 887.43,441.60 889.19,441.79 890.94,441.99 892.69,442.17 894.44,442.36 896.20,442.54 897.95,442.73 899.70,442.91 901.45,443.09 903.21,443.27 904.96,443.44 906.71,443.62 908.47,443.79 910.22,443.96 911.97,444.13 913.72,444.30 915.48,444.46 917.23,444.63 918.98,444.79" fill="none" stroke="#000" stroke-width="2.6" stroke-linejoin="round"/>
<polyline points="322.95,523.90 323.31,520.57 323.67,517.30 324.04,514.10 324.40,510.97 324.76,507.90 325.12,504.90 325.48,501.96 325.84,499.07 326.21,496.25 326.57,493.49 326.93,490.78 327.29,488.13 327.65,485.54 328.01,483.00 328.38,480.51 328.74,478.07 329.10,475.69 329.46,473.35 329.82,471.07 330.18,468.83 330.55,466.64 330.91,464.50 331.27,462.40 331.63,460.35 331.99,458.34 332.35,456.37 332.72,454.45 333.08,452.56 333.44,450.72 333.80,448.92 334.16,447.15 334.52,445.42 334.89,443.73 335.25,442.08 335.61,440.47 335.97,438.88 336.33,437.34 336.69,435.82 337.06,434.34 337.42,432.90 337.78,431.48 338.14,430.10 338.50,428.75 338.87,427.42 339.23,426.13 339.59,424.87 339.95,423.63 340.31,422.42 340.67,421.24 341.04,420.09 341.40,418.96 341.76,417.86 342.12,416.78 342.48,415.73 342.84,414.71 343.21,413.70 343.57,412.72 343.93,411.77 344.29,410.83 344.65,409.92 345.01,409.03 345.38,408.16 345.74,407.31 346.10,406.48 346.46,405.67 346.82,404.89 347.18,404.12 347.55,403.37 347.91,402.63 348.27,401.92 348.63,401.22 348.99,400.54 349.35,399.88 349.72,399.24 350.08,398.61 350.44,398.00 350.80,397.40 351.16,396.82 351.52,396.25 351.89,395.70 352.25,395.16 352.61,394.64 352.97,394.13 353.33,393.64 353.70,393.16 354.06,392.69 354.42,392.24 354.78,391.79 355.14,391.36 355.50,390.95 355.87,390.54 356.23,390.15 356.59,389.76 356.95,389.39 357.31,389.03 357.67,388.68 358.04,388.35 358.40,388.02 358.76,387.70 359.12,387.39 359.48,387.09 359.84,386.81 360.21,386.53 360.57,386.26 360.93,386.00 361.29,385.74 361.65,385.50 362.01,385.27 362.38,385.04 362.74,384.82 363.10,384.61 363.46,384.41 363.82,384.21 364.18,384.03 364.55,383.85 364.91,383.68 365.27,383.51 365.63,383.35 365.99,383.20 366.36,383.06 366.72,382.92 367.08,382.79 367.44,382.66 367.80,382.54 368.16,382.43 368.53,382.32 368.89,382.22 369.25,382.12 369.61,382.03 369.97,381.95 370.33,381.87 370.70,381.79 371.06,381.72 371.42,381.66 371.78,381.60 372.14,381.55 372.50,381.50 372.87,381.45 373.23,381.41 373.59,381.38 373.95,381.34 374.31,381.32 374.67,381.29 375.04,381.28 375.40,381.26 375.76,381.25 376.12,381.24 376.48,381.24 376.84,381.24 377.21,381.24 377.57,381.25 377.93,381.26 378.29,381.27 378.65,381.29 379.01,381.31 379.38,381.34 379.74,381.36 380.10,381.39 380.46,381.43 380.82,381.46 381.19,381.50 381.55,381.54 381.91,381.59 382.27,381.63 382.63,381.68 382.99,381.74 383.36,381.79 383.72,381.85 384.08,381.91 384.44,381.97 384.80,382.03 385.16,382.10 385.53,382.17 385.89,382.24 386.25,382.31 386.61,382.39 386.97,382.47 387.33,382.54 387.70,382.63 388.06,382.71 388.42,382.79 388.78,382.88 389.14,382.97 389.50,383.06 389.87,383.15 390.23,383.24 390.59,383.34 390.95,383.43 391.31,383.53 391.67,383.63 392.04,383.73 392.40,383.84 392.76,383.94 393.12,384.04 393.48,384.15 393.84,384.26 394.21,384.37 394.57,384.48 394.93,384.59 396.68,385.15 398.44,385.73 400.19,386.33 401.94,386.96 403.69,387.60 405.45,388.26 407.20,388.92 408.95,389.60 410.70,390.30 412.46,390.99 414.21,391.70 415.96,392.41 417.71,393.13 419.47,393.85 421.22,394.57 422.97,395.30 424.73,396.02 426.48,396.75 428.23,397.48 429.98,398.20 431.74,398.93 433.49,399.65 435.24,400.38 436.99,401.10 438.75,401.82 440.50,402.53 442.25,403.25 444.00,403.96 445.76,404.66 447.51,405.37 449.26,406.07 451.02,406.76 452.77,407.45 454.52,408.14 456.27,408.83 458.03,409.50 459.78,410.18 461.53,410.85 463.28,411.52 465.04,412.18 466.79,412.83 468.54,413.49 470.30,414.13 472.05,414.78 473.80,415.42 475.55,416.05 477.31,416.68 479.06,417.30 480.81,417.92 482.56,418.54 484.32,419.15 486.07,419.76 487.82,420.36 489.57,420.95 491.33,421.55 493.08,422.13 494.83,422.72 496.59,423.30 498.34,423.87 500.09,424.44 501.84,425.01 503.60,425.57 505.35,426.12 507.10,426.67 508.85,427.22 510.61,427.77 512.36,428.31 514.11,428.84 515.86,429.37 517.62,429.90 519.37,430.42 521.12,430.94 522.88,431.45 524.63,431.96 526.38,432.47 528.13,432.97 529.89,433.47 531.64,433.96 533.39,434.45 535.14,434.94 536.90,435.42 538.65,435.90 540.40,436.37 542.15,436.84 543.91,437.31 545.66,437.77 547.41,438.23 549.17,438.69 550.92,439.14 552.67,439.59 554.42,440.03 556.18,440.47 557.93,440.91 559.68,441.35 561.43,441.78 563.19,442.20 564.94,442.63 566.69,443.05 568.45,443.47 570.20,443.88 571.95,444.29 573.70,444.70 575.46,445.10 577.21,445.50 578.96,445.90 580.71,446.29 582.47,446.69 584.22,447.07 585.97,447.46 587.72,447.84 589.48,448.22 591.23,448.60 592.98,448.97 594.74,449.34 596.49,449.70 598.24,450.07 599.99,450.43 601.75,450.79 603.50,451.14 605.25,451.50 607.00,451.84 608.76,452.19 610.51,452.54 612.26,452.88 614.01,453.22 615.77,453.55 617.52,453.88 619.27,454.21 621.03,454.54 622.78,454.87 624.53,455.19 626.28,455.51 628.04,455.83 629.79,456.14 631.54,456.45 633.29,456.76 635.05,457.07 636.80,457.38 638.55,457.68 640.30,457.98 642.06,458.28 643.81,458.57 645.56,458.86 647.32,459.15 649.07,459.44 650.82,459.73 652.57,460.01 654.33,460.29 656.08,460.57 657.83,460.85 659.58,461.12 661.34,461.40 663.09,461.67 664.84,461.93 666.59,462.20 668.35,462.46 670.10,462.73 671.85,462.98 673.61,463.24 675.36,463.50 677.11,463.75 678.86,464.00 680.62,464.25 682.37,464.50 684.12,464.74 685.87,464.99 687.63,465.23 689.38,465.47 691.13,465.71 692.89,465.94 694.64,466.17 696.39,466.41 698.14,466.64 699.90,466.86 701.65,467.09 703.40,467.32 705.15,467.54 706.91,467.76 708.66,467.98 710.41,468.20 712.16,468.41 713.92,468.63 715.67,468.84 717.42,469.05 719.18,469.26 720.93,469.46 722.68,469.67 724.43,469.87 726.19,470.08 727.94,470.28 729.69,470.48 731.44,470.67 733.20,470.87 734.95,471.06 736.70,471.26 738.45,471.45 740.21,471.64 741.96,471.82 743.71,472.01 745.47,472.20 747.22,472.38 748.97,472.56 750.72,472.74 752.48,472.92 754.23,473.10 755.98,473.28 757.73,473.45 759.49,473.62 761.24,473.80 762.99,473.97 764.74,474.14 766.50,474.30 768.25,474.47 770.00,474.64 771.76,474.80 773.51,474.96 775.26,475.12 777.01,475.28 778.77,475.44 780.52,475.60 782.27,475.76 784.02,475.91 785.78,476.07 787.53,476.22 789.28,476.37 791.03,476.52 792.79,476.67 794.54,476.82 796.29,476.96 798.05,477.11 799.80,477.25 801.55,477.40 803.30,477.54 805.06,477.68 806.81,477.82 808.56,477.96 810.31,478.09 812.07,478.23 813.82,478.36 815.57,478.50 817.33,478.63 819.08,478.76 820.83,478.89 822.58,479.02 824.34,479.15 826.09,479.28 827.84,479.41 829.59,479.53 831.35,479.66 833.10,479.78 834.85,479.91 836.60,480.03 838.36,480.15 840.11,480.27 841.86,480.39 843.62,480.50 845.37,480.62 847.12,480.74 848.87,480.85 850.63,480.97 852.38,481.08 854.13,481.19 855.88,481.30 857.64,481.41 859.39,481.52 861.14,481.63 862.89,481.74 864.65,481.85 866.40,481.95 868.15,482.06 869.91,482.16 871.66,482.27 873.41,482.37 875.16,482.47 876.92,482.57 878.67,482.67 880.42,482.77 882.17,482.87 883.93,482.97 885.68,483.07 887.43,483.16 889.18,483.26 890.94,483.35 892.69,483.45 894.44,483.54 896.20,483.63 897.95,483.73 899.70,483.82 901.45,483.91 903.21,484.00 904.96,484.09 906.71,484.17 908.46,484.26 910.22,484.35 911.97,484.43 913.72,484.52 915.48,484.61 917.23,484.69 918.98,484.77" fill="none" stroke="#000" stroke-width="2.6" stroke-linejoin="round"/>
<circle cx="294.19" cy="523.90" r="4.0" fill="none" stroke="#000" stroke-width="2.2"/>
<circle cx="304.99" cy="523.90" r="4.0" fill="none" stroke="#000" stroke-width="2.2"/>
<circle cx="325.15" cy="523.90" r="4.0" fill="none" stroke="#000" stroke-width="2.2"/>
<circle cx="346.74" cy="523.90" r="4.0" fill="none" stroke="#000" stroke-width="2.2"/>
<circle cx="389.93" cy="523.90" r="4.0" fill="none" stroke="#000" stroke-width="2.2"/>
<circle cx="400.72" cy="523.90" r="4.0" fill="none" stroke="#000" stroke-width="2.2"/>
<circle cx="411.52" cy="523.90" r="4.0" fill="none" stroke="#000" stroke-width="2.2"/>
<circle cx="422.32" cy="523.90" r="4.0" fill="none" stroke="#000" stroke-width="2.2"/>
<circle cx="433.12" cy="523.90" r="4.0" fill="none" stroke="#000" stroke-width="2.2"/>
<circle cx="443.91" cy="523.90" r="4.0" fill="none" stroke="#000" stroke-width="2.2"/>
<circle cx="454.71" cy="523.90" r="4.0" fill="none" stroke="#000" stroke-width="2.2"/>
<circle cx="465.51" cy="523.90" r="4.0" fill="none" stroke="#000" stroke-width="2.2"/>
<circle cx="487.10" cy="523.90" r="4.0" fill="none" stroke="#000" stroke-width="2.2"/>
<circle cx="497.90" cy="523.90" r="4.0" fill="none" stroke="#000" stroke-width="2.2"/>
<circle cx="508.69" cy="523.90" r="4.0" fill="none" stroke="#000" stroke-width="2.2"/>
<circle cx="519.49" cy="523.90" r="4.0" fill="none" stroke="#000" stroke-width="2.2"/>
<circle cx="530.29" cy="523.90" r="4.0" fill="none" stroke="#000" stroke-width="2.2"/>
<circle cx="562.68" cy="523.90" r="4.0" fill="none" stroke="#000" stroke-width="2.2"/>
<circle cx="584.27" cy="523.90" r="4.0" fill="none" stroke="#000" stroke-width="2.2"/>
<circle cx="605.87" cy="523.90" r="4.0" fill="none" stroke="#000" stroke-width="2.2"/>
<circle cx="616.66" cy="523.90" r="4.0" fill="none" stroke="#000" stroke-width="2.2"/>
<circle cx="627.46" cy="523.90" r="4.0" fill="none" stroke="#000" stroke-width="2.2"/>
<circle cx="659.85" cy="523.90" r="4.0" fill="none" stroke="#000" stroke-width="2.2"/>
<circle cx="670.65" cy="523.90" r="4.0" fill="none" stroke="#000" stroke-width="2.2"/>
<circle cx="713.84" cy="523.90" r="4.0" fill="none" stroke="#000" stroke-width="2.2"/>
<circle cx="735.43" cy="523.90" r="4.0" fill="none" stroke="#000" stroke-width="2.2"/>
<circle cx="757.03" cy="523.90" r="4.0" fill="none" stroke="#000" stroke-width="2.2"/>
<circle cx="778.62" cy="523.90" r="4.0" fill="none" stroke="#000" stroke-width="2.2"/>
<circle cx="800.21" cy="523.90" r="4.0" fill="none" stroke="#000" stroke-width="2.2"/>
<circle cx="832.60" cy="523.90" r="4.0" fill="none" stroke="#000" stroke-width="2.2"/>
<circle cx="843.40" cy="523.90" r="4.0" fill="none" stroke="#000" stroke-width="2.2"/>
<circle cx="865.00" cy="523.90" r="4.0" fill="none" stroke="#000" stroke-width="2.2"/>
<circle cx="875.79" cy="523.90" r="4.0" fill="none" stroke="#000" stroke-width="2.2"/>
<circle cx="886.59" cy="523.90" r="4.0" fill="none" stroke="#000" stroke-width="2.2"/>
<circle cx="918.98" cy="523.90" r="4.0" fill="none" stroke="#000" stroke-width="2.2"/>
<circle cx="272.60" cy="521.30" r="4.9" fill="none" stroke="#0000CC" stroke-width="2.2"/>
<circle cx="272.60" cy="522.10" r="4.9" fill="none" stroke="#008000" stroke-width="2.2"/>
<circle cx="272.60" cy="523.90" r="4.9" fill="none" stroke="#FF5A00" stroke-width="2.2"/>
<circle cx="272.60" cy="523.90" r="4.9" fill="none" stroke="#C58D4A" stroke-width="2.2"/>
<circle cx="283.40" cy="524.50" r="4.9" fill="none" stroke="#FF5A00" stroke-width="2.2"/>
<circle cx="283.40" cy="523.90" r="4.9" fill="none" stroke="#C58D4A" stroke-width="2.2"/>
<circle cx="325.15" cy="512.70" r="4.9" fill="none" stroke="#0000CC" stroke-width="2.2"/>
<line x1="335.94" y1="444.20" x2="335.94" y2="439.90" stroke="#0000CC" stroke-width="1.9"/>
<line x1="331.14" y1="439.90" x2="340.74" y2="439.90" stroke="#0000CC" stroke-width="1.9"/>
<circle cx="335.94" cy="449.10" r="4.9" fill="none" stroke="#0000CC" stroke-width="2.2"/>
<line x1="346.74" y1="396.60" x2="346.74" y2="388.20" stroke="#0000CC" stroke-width="1.9"/>
<line x1="341.94" y1="388.20" x2="351.54" y2="388.20" stroke="#0000CC" stroke-width="1.9"/>
<circle cx="346.74" cy="401.50" r="4.9" fill="none" stroke="#0000CC" stroke-width="2.2"/>
<line x1="357.54" y1="379.80" x2="357.54" y2="374.80" stroke="#0000CC" stroke-width="1.9"/>
<line x1="352.74" y1="374.80" x2="362.34" y2="374.80" stroke="#0000CC" stroke-width="1.9"/>
<circle cx="357.54" cy="384.70" r="4.9" fill="none" stroke="#0000CC" stroke-width="2.2"/>
<line x1="368.33" y1="371.80" x2="368.33" y2="367.80" stroke="#0000CC" stroke-width="1.9"/>
<line x1="363.53" y1="367.80" x2="373.13" y2="367.80" stroke="#0000CC" stroke-width="1.9"/>
<circle cx="368.33" cy="376.70" r="4.9" fill="none" stroke="#0000CC" stroke-width="2.2"/>
<line x1="379.13" y1="371.80" x2="379.13" y2="367.80" stroke="#0000CC" stroke-width="1.9"/>
<line x1="374.33" y1="367.80" x2="383.93" y2="367.80" stroke="#0000CC" stroke-width="1.9"/>
<circle cx="379.13" cy="376.70" r="4.9" fill="none" stroke="#0000CC" stroke-width="2.2"/>
<line x1="389.93" y1="376.60" x2="389.93" y2="372.80" stroke="#0000CC" stroke-width="1.9"/>
<line x1="385.13" y1="372.80" x2="394.73" y2="372.80" stroke="#0000CC" stroke-width="1.9"/>
<circle cx="389.93" cy="381.50" r="4.9" fill="none" stroke="#0000CC" stroke-width="2.2"/>
<line x1="400.72" y1="381.00" x2="400.72" y2="379.10" stroke="#0000CC" stroke-width="1.9"/>
<line x1="395.92" y1="379.10" x2="405.52" y2="379.10" stroke="#0000CC" stroke-width="1.9"/>
<circle cx="400.72" cy="385.90" r="4.9" fill="none" stroke="#0000CC" stroke-width="2.2"/>
<line x1="411.52" y1="385.80" x2="411.52" y2="383.80" stroke="#0000CC" stroke-width="1.9"/>
<line x1="406.72" y1="383.80" x2="416.32" y2="383.80" stroke="#0000CC" stroke-width="1.9"/>
<circle cx="411.52" cy="390.70" r="4.9" fill="none" stroke="#0000CC" stroke-width="2.2"/>
<line x1="422.32" y1="392.20" x2="422.32" y2="390.70" stroke="#0000CC" stroke-width="1.9"/>
<line x1="417.52" y1="390.70" x2="427.12" y2="390.70" stroke="#0000CC" stroke-width="1.9"/>
<circle cx="422.32" cy="397.10" r="4.9" fill="none" stroke="#0000CC" stroke-width="2.2"/>
<line x1="433.12" y1="395.40" x2="433.12" y2="393.30" stroke="#0000CC" stroke-width="1.9"/>
<line x1="428.32" y1="393.30" x2="437.92" y2="393.30" stroke="#0000CC" stroke-width="1.9"/>
<circle cx="433.12" cy="400.30" r="4.9" fill="none" stroke="#0000CC" stroke-width="2.2"/>
<line x1="443.91" y1="398.60" x2="443.91" y2="395.40" stroke="#0000CC" stroke-width="1.9"/>
<line x1="439.11" y1="395.40" x2="448.71" y2="395.40" stroke="#0000CC" stroke-width="1.9"/>
<circle cx="443.91" cy="403.50" r="4.9" fill="none" stroke="#0000CC" stroke-width="2.2"/>
<circle cx="454.71" cy="409.10" r="4.9" fill="none" stroke="#0000CC" stroke-width="2.2"/>
<circle cx="465.51" cy="412.70" r="4.9" fill="none" stroke="#0000CC" stroke-width="2.2"/>
<line x1="476.30" y1="413.80" x2="476.30" y2="412.70" stroke="#0000CC" stroke-width="1.9"/>
<line x1="471.50" y1="412.70" x2="481.10" y2="412.70" stroke="#0000CC" stroke-width="1.9"/>
<circle cx="476.30" cy="418.70" r="4.9" fill="none" stroke="#0000CC" stroke-width="2.2"/>
<line x1="487.10" y1="416.20" x2="487.10" y2="415.10" stroke="#0000CC" stroke-width="1.9"/>
<line x1="482.30" y1="415.10" x2="491.90" y2="415.10" stroke="#0000CC" stroke-width="1.9"/>
<circle cx="487.10" cy="421.10" r="4.9" fill="none" stroke="#0000CC" stroke-width="2.2"/>
<circle cx="497.90" cy="424.30" r="4.9" fill="none" stroke="#0000CC" stroke-width="2.2"/>
<line x1="508.69" y1="422.60" x2="508.69" y2="421.50" stroke="#0000CC" stroke-width="1.9"/>
<line x1="503.89" y1="421.50" x2="513.49" y2="421.50" stroke="#0000CC" stroke-width="1.9"/>
<circle cx="508.69" cy="427.50" r="4.9" fill="none" stroke="#0000CC" stroke-width="2.2"/>
<circle cx="519.49" cy="430.30" r="4.9" fill="none" stroke="#0000CC" stroke-width="2.2"/>
<line x1="530.29" y1="431.00" x2="530.29" y2="429.90" stroke="#0000CC" stroke-width="1.9"/>
<line x1="525.49" y1="429.90" x2="535.09" y2="429.90" stroke="#0000CC" stroke-width="1.9"/>
<circle cx="530.29" cy="435.90" r="4.9" fill="none" stroke="#0000CC" stroke-width="2.2"/>
<circle cx="541.09" cy="436.70" r="4.9" fill="none" stroke="#0000CC" stroke-width="2.2"/>
<circle cx="551.88" cy="442.30" r="4.9" fill="none" stroke="#0000CC" stroke-width="2.2"/>
<circle cx="562.68" cy="441.10" r="4.9" fill="none" stroke="#0000CC" stroke-width="2.2"/>
<circle cx="573.48" cy="445.10" r="4.9" fill="none" stroke="#0000CC" stroke-width="2.2"/>
<circle cx="584.27" cy="449.10" r="4.9" fill="none" stroke="#0000CC" stroke-width="2.2"/>
<line x1="595.07" y1="443.40" x2="595.07" y2="442.50" stroke="#0000CC" stroke-width="1.9"/>
<line x1="590.27" y1="442.50" x2="599.87" y2="442.50" stroke="#0000CC" stroke-width="1.9"/>
<circle cx="595.07" cy="448.30" r="4.9" fill="none" stroke="#0000CC" stroke-width="2.2"/>
<circle cx="605.87" cy="450.30" r="4.9" fill="none" stroke="#0000CC" stroke-width="2.2"/>
<circle cx="616.66" cy="451.10" r="4.9" fill="none" stroke="#0000CC" stroke-width="2.2"/>
<circle cx="627.46" cy="455.90" r="4.9" fill="none" stroke="#0000CC" stroke-width="2.2"/>
<circle cx="638.26" cy="456.70" r="4.9" fill="none" stroke="#0000CC" stroke-width="2.2"/>
<circle cx="649.06" cy="459.90" r="4.9" fill="none" stroke="#0000CC" stroke-width="2.2"/>
<line x1="659.85" y1="456.60" x2="659.85" y2="455.70" stroke="#0000CC" stroke-width="1.9"/>
<line x1="655.05" y1="455.70" x2="664.65" y2="455.70" stroke="#0000CC" stroke-width="1.9"/>
<circle cx="659.85" cy="461.50" r="4.9" fill="none" stroke="#0000CC" stroke-width="2.2"/>
<line x1="670.65" y1="456.60" x2="670.65" y2="455.70" stroke="#0000CC" stroke-width="1.9"/>
<line x1="665.85" y1="455.70" x2="675.45" y2="455.70" stroke="#0000CC" stroke-width="1.9"/>
<circle cx="670.65" cy="461.50" r="4.9" fill="none" stroke="#0000CC" stroke-width="2.2"/>
<line x1="681.45" y1="457.80" x2="681.45" y2="456.70" stroke="#0000CC" stroke-width="1.9"/>
<line x1="676.65" y1="456.70" x2="686.25" y2="456.70" stroke="#0000CC" stroke-width="1.9"/>
<circle cx="681.45" cy="462.70" r="4.9" fill="none" stroke="#0000CC" stroke-width="2.2"/>
<circle cx="692.24" cy="466.70" r="4.9" fill="none" stroke="#0000CC" stroke-width="2.2"/>
<line x1="703.04" y1="460.60" x2="703.04" y2="459.70" stroke="#0000CC" stroke-width="1.9"/>
<line x1="698.24" y1="459.70" x2="707.84" y2="459.70" stroke="#0000CC" stroke-width="1.9"/>
<circle cx="703.04" cy="465.50" r="4.9" fill="none" stroke="#0000CC" stroke-width="2.2"/>
<circle cx="713.84" cy="465.50" r="4.9" fill="none" stroke="#0000CC" stroke-width="2.2"/>
<circle cx="724.63" cy="467.90" r="4.9" fill="none" stroke="#0000CC" stroke-width="2.2"/>
<circle cx="735.43" cy="470.30" r="4.9" fill="none" stroke="#0000CC" stroke-width="2.2"/>
<circle cx="746.23" cy="471.50" r="4.9" fill="none" stroke="#0000CC" stroke-width="2.2"/>
<line x1="757.03" y1="466.60" x2="757.03" y2="465.50" stroke="#0000CC" stroke-width="1.9"/>
<line x1="752.23" y1="465.50" x2="761.83" y2="465.50" stroke="#0000CC" stroke-width="1.9"/>
<circle cx="757.03" cy="471.50" r="4.9" fill="none" stroke="#0000CC" stroke-width="2.2"/>
<circle cx="767.82" cy="474.70" r="4.9" fill="none" stroke="#0000CC" stroke-width="2.2"/>
<circle cx="778.62" cy="477.10" r="4.9" fill="none" stroke="#0000CC" stroke-width="2.2"/>
<line x1="789.42" y1="473.00" x2="789.42" y2="472.10" stroke="#0000CC" stroke-width="1.9"/>
<line x1="784.62" y1="472.10" x2="794.22" y2="472.10" stroke="#0000CC" stroke-width="1.9"/>
<circle cx="789.42" cy="477.90" r="4.9" fill="none" stroke="#0000CC" stroke-width="2.2"/>
<line x1="800.21" y1="471.40" x2="800.21" y2="470.30" stroke="#0000CC" stroke-width="1.9"/>
<line x1="795.41" y1="470.30" x2="805.01" y2="470.30" stroke="#0000CC" stroke-width="1.9"/>
<circle cx="800.21" cy="476.30" r="4.9" fill="none" stroke="#0000CC" stroke-width="2.2"/>
<circle cx="811.01" cy="477.10" r="4.9" fill="none" stroke="#0000CC" stroke-width="2.2"/>
<circle cx="821.81" cy="477.90" r="4.9" fill="none" stroke="#0000CC" stroke-width="2.2"/>
<line x1="832.60" y1="477.00" x2="832.60" y2="475.90" stroke="#0000CC" stroke-width="1.9"/>
<line x1="827.80" y1="475.90" x2="837.40" y2="475.90" stroke="#0000CC" stroke-width="1.9"/>
<circle cx="832.60" cy="481.90" r="4.9" fill="none" stroke="#0000CC" stroke-width="2.2"/>
<circle cx="843.40" cy="481.90" r="4.9" fill="none" stroke="#0000CC" stroke-width="2.2"/>
<line x1="854.20" y1="477.00" x2="854.20" y2="476.10" stroke="#0000CC" stroke-width="1.9"/>
<line x1="849.40" y1="476.10" x2="859.00" y2="476.10" stroke="#0000CC" stroke-width="1.9"/>
<circle cx="854.20" cy="481.90" r="4.9" fill="none" stroke="#0000CC" stroke-width="2.2"/>
<line x1="865.00" y1="480.20" x2="865.00" y2="479.10" stroke="#0000CC" stroke-width="1.9"/>
<line x1="860.20" y1="479.10" x2="869.80" y2="479.10" stroke="#0000CC" stroke-width="1.9"/>
<circle cx="865.00" cy="485.10" r="4.9" fill="none" stroke="#0000CC" stroke-width="2.2"/>
<line x1="875.79" y1="480.20" x2="875.79" y2="479.30" stroke="#0000CC" stroke-width="1.9"/>
<line x1="870.99" y1="479.30" x2="880.59" y2="479.30" stroke="#0000CC" stroke-width="1.9"/>
<circle cx="875.79" cy="485.10" r="4.9" fill="none" stroke="#0000CC" stroke-width="2.2"/>
<line x1="886.59" y1="477.40" x2="886.59" y2="476.30" stroke="#0000CC" stroke-width="1.9"/>
<line x1="881.79" y1="476.30" x2="891.39" y2="476.30" stroke="#0000CC" stroke-width="1.9"/>
<circle cx="886.59" cy="482.30" r="4.9" fill="none" stroke="#0000CC" stroke-width="2.2"/>
<circle cx="897.39" cy="482.70" r="4.9" fill="none" stroke="#0000CC" stroke-width="2.2"/>
<line x1="908.18" y1="477.80" x2="908.18" y2="476.70" stroke="#0000CC" stroke-width="1.9"/>
<line x1="903.38" y1="476.70" x2="912.98" y2="476.70" stroke="#0000CC" stroke-width="1.9"/>
<circle cx="908.18" cy="482.70" r="4.9" fill="none" stroke="#0000CC" stroke-width="2.2"/>
<line x1="918.98" y1="481.40" x2="918.98" y2="480.10" stroke="#0000CC" stroke-width="1.9"/>
<line x1="914.18" y1="480.10" x2="923.78" y2="480.10" stroke="#0000CC" stroke-width="1.9"/>
<circle cx="918.98" cy="486.30" r="4.9" fill="none" stroke="#0000CC" stroke-width="2.2"/>
<line x1="325.15" y1="455.20" x2="325.15" y2="458.30" stroke="#008000" stroke-width="1.9"/>
<line x1="320.35" y1="458.30" x2="329.95" y2="458.30" stroke="#008000" stroke-width="1.9"/>
<circle cx="325.15" cy="450.30" r="4.9" fill="none" stroke="#008000" stroke-width="2.2"/>
<line x1="335.94" y1="235.20" x2="335.94" y2="236.00" stroke="#008000" stroke-width="1.9"/>
<line x1="331.14" y1="236.00" x2="340.74" y2="236.00" stroke="#008000" stroke-width="1.9"/>
<circle cx="335.94" cy="230.30" r="4.9" fill="none" stroke="#008000" stroke-width="2.2"/>
<line x1="346.74" y1="115.60" x2="346.74" y2="123.20" stroke="#008000" stroke-width="1.9"/>
<line x1="341.94" y1="123.20" x2="351.54" y2="123.20" stroke="#008000" stroke-width="1.9"/>
<circle cx="346.74" cy="110.70" r="4.9" fill="none" stroke="#008000" stroke-width="2.2"/>
<line x1="357.54" y1="94.40" x2="357.54" y2="101.80" stroke="#008000" stroke-width="1.9"/>
<line x1="352.74" y1="101.80" x2="362.34" y2="101.80" stroke="#008000" stroke-width="1.9"/>
<circle cx="357.54" cy="89.50" r="4.9" fill="none" stroke="#008000" stroke-width="2.2"/>
<line x1="368.33" y1="97.60" x2="368.33" y2="104.10" stroke="#008000" stroke-width="1.9"/>
<line x1="363.53" y1="104.10" x2="373.13" y2="104.10" stroke="#008000" stroke-width="1.9"/>
<circle cx="368.33" cy="92.70" r="4.9" fill="none" stroke="#008000" stroke-width="2.2"/>
<line x1="379.13" y1="116.00" x2="379.13" y2="118.90" stroke="#008000" stroke-width="1.9"/>
<line x1="374.33" y1="118.90" x2="383.93" y2="118.90" stroke="#008000" stroke-width="1.9"/>
<circle cx="379.13" cy="111.10" r="4.9" fill="none" stroke="#008000" stroke-width="2.2"/>
<line x1="389.93" y1="135.60" x2="389.93" y2="139.70" stroke="#008000" stroke-width="1.9"/>
<line x1="385.13" y1="139.70" x2="394.73" y2="139.70" stroke="#008000" stroke-width="1.9"/>
<circle cx="389.93" cy="130.70" r="4.9" fill="none" stroke="#008000" stroke-width="2.2"/>
<line x1="400.72" y1="154.00" x2="400.72" y2="158.10" stroke="#008000" stroke-width="1.9"/>
<line x1="395.92" y1="158.10" x2="405.52" y2="158.10" stroke="#008000" stroke-width="1.9"/>
<circle cx="400.72" cy="149.10" r="4.9" fill="none" stroke="#008000" stroke-width="2.2"/>
<line x1="411.52" y1="171.60" x2="411.52" y2="176.20" stroke="#008000" stroke-width="1.9"/>
<line x1="406.72" y1="176.20" x2="416.32" y2="176.20" stroke="#008000" stroke-width="1.9"/>
<circle cx="411.52" cy="166.70" r="4.9" fill="none" stroke="#008000" stroke-width="2.2"/>
<line x1="422.32" y1="193.60" x2="422.32" y2="197.70" stroke="#008000" stroke-width="1.9"/>
<line x1="417.52" y1="197.70" x2="427.12" y2="197.70" stroke="#008000" stroke-width="1.9"/>
<circle cx="422.32" cy="188.70" r="4.9" fill="none" stroke="#008000" stroke-width="2.2"/>
<line x1="433.12" y1="204.40" x2="433.12" y2="208.00" stroke="#008000" stroke-width="1.9"/>
<line x1="428.32" y1="208.00" x2="437.92" y2="208.00" stroke="#008000" stroke-width="1.9"/>
<circle cx="433.12" cy="199.50" r="4.9" fill="none" stroke="#008000" stroke-width="2.2"/>
<line x1="443.91" y1="221.20" x2="443.91" y2="222.30" stroke="#008000" stroke-width="1.9"/>
<line x1="439.11" y1="222.30" x2="448.71" y2="222.30" stroke="#008000" stroke-width="1.9"/>
<circle cx="443.91" cy="216.30" r="4.9" fill="none" stroke="#008000" stroke-width="2.2"/>
<line x1="454.71" y1="229.60" x2="454.71" y2="230.20" stroke="#008000" stroke-width="1.9"/>
<line x1="449.91" y1="230.20" x2="459.51" y2="230.20" stroke="#008000" stroke-width="1.9"/>
<circle cx="454.71" cy="224.70" r="4.9" fill="none" stroke="#008000" stroke-width="2.2"/>
<circle cx="465.51" cy="241.10" r="4.9" fill="none" stroke="#008000" stroke-width="2.2"/>
<circle cx="476.30" cy="255.10" r="4.9" fill="none" stroke="#008000" stroke-width="2.2"/>
<circle cx="487.10" cy="267.90" r="4.9" fill="none" stroke="#008000" stroke-width="2.2"/>
<circle cx="497.90" cy="282.70" r="4.9" fill="none" stroke="#008000" stroke-width="2.2"/>
<circle cx="508.69" cy="292.70" r="4.9" fill="none" stroke="#008000" stroke-width="2.2"/>
<circle cx="519.49" cy="303.90" r="4.9" fill="none" stroke="#008000" stroke-width="2.2"/>
<circle cx="530.29" cy="307.90" r="4.9" fill="none" stroke="#008000" stroke-width="2.2"/>
<circle cx="541.09" cy="319.10" r="4.9" fill="none" stroke="#008000" stroke-width="2.2"/>
<circle cx="551.88" cy="329.10" r="4.9" fill="none" stroke="#008000" stroke-width="2.2"/>
<circle cx="562.68" cy="333.90" r="4.9" fill="none" stroke="#008000" stroke-width="2.2"/>
<circle cx="573.48" cy="340.70" r="4.9" fill="none" stroke="#008000" stroke-width="2.2"/>
<circle cx="584.27" cy="352.70" r="4.9" fill="none" stroke="#008000" stroke-width="2.2"/>
<circle cx="595.07" cy="355.10" r="4.9" fill="none" stroke="#008000" stroke-width="2.2"/>
<circle cx="605.87" cy="356.70" r="4.9" fill="none" stroke="#008000" stroke-width="2.2"/>
<circle cx="616.66" cy="367.90" r="4.9" fill="none" stroke="#008000" stroke-width="2.2"/>
<circle cx="627.46" cy="370.30" r="4.9" fill="none" stroke="#008000" stroke-width="2.2"/>
<circle cx="638.26" cy="377.50" r="4.9" fill="none" stroke="#008000" stroke-width="2.2"/>
<circle cx="649.06" cy="379.90" r="4.9" fill="none" stroke="#008000" stroke-width="2.2"/>
<circle cx="659.85" cy="383.10" r="4.9" fill="none" stroke="#008000" stroke-width="2.2"/>
<circle cx="670.65" cy="389.10" r="4.9" fill="none" stroke="#008000" stroke-width="2.2"/>
<circle cx="681.45" cy="391.90" r="4.9" fill="none" stroke="#008000" stroke-width="2.2"/>
<circle cx="692.24" cy="395.90" r="4.9" fill="none" stroke="#008000" stroke-width="2.2"/>
<circle cx="703.04" cy="400.70" r="4.9" fill="none" stroke="#008000" stroke-width="2.2"/>
<circle cx="713.84" cy="400.70" r="4.9" fill="none" stroke="#008000" stroke-width="2.2"/>
<circle cx="724.63" cy="407.10" r="4.9" fill="none" stroke="#008000" stroke-width="2.2"/>
<circle cx="735.43" cy="405.90" r="4.9" fill="none" stroke="#008000" stroke-width="2.2"/>
<circle cx="746.23" cy="409.50" r="4.9" fill="none" stroke="#008000" stroke-width="2.2"/>
<circle cx="757.03" cy="412.70" r="4.9" fill="none" stroke="#008000" stroke-width="2.2"/>
<circle cx="767.82" cy="417.10" r="4.9" fill="none" stroke="#008000" stroke-width="2.2"/>
<circle cx="778.62" cy="419.50" r="4.9" fill="none" stroke="#008000" stroke-width="2.2"/>
<circle cx="789.42" cy="421.10" r="4.9" fill="none" stroke="#008000" stroke-width="2.2"/>
<circle cx="800.21" cy="422.70" r="4.9" fill="none" stroke="#008000" stroke-width="2.2"/>
<circle cx="811.01" cy="425.50" r="4.9" fill="none" stroke="#008000" stroke-width="2.2"/>
<circle cx="821.81" cy="428.30" r="4.9" fill="none" stroke="#008000" stroke-width="2.2"/>
<circle cx="832.60" cy="429.50" r="4.9" fill="none" stroke="#008000" stroke-width="2.2"/>
<circle cx="843.40" cy="430.30" r="4.9" fill="none" stroke="#008000" stroke-width="2.2"/>
<circle cx="854.20" cy="432.70" r="4.9" fill="none" stroke="#008000" stroke-width="2.2"/>
<circle cx="865.00" cy="433.10" r="4.9" fill="none" stroke="#008000" stroke-width="2.2"/>
<circle cx="875.79" cy="435.50" r="4.9" fill="none" stroke="#008000" stroke-width="2.2"/>
<circle cx="886.59" cy="435.10" r="4.9" fill="none" stroke="#008000" stroke-width="2.2"/>
<circle cx="897.39" cy="437.90" r="4.9" fill="none" stroke="#008000" stroke-width="2.2"/>
<circle cx="908.18" cy="436.30" r="4.9" fill="none" stroke="#008000" stroke-width="2.2"/>
<circle cx="918.98" cy="441.50" r="4.9" fill="none" stroke="#008000" stroke-width="2.2"/>
<line x1="320.35" y1="445.70" x2="329.95" y2="445.70" stroke="#FF5A00" stroke-width="1.9"/>
<circle cx="325.15" cy="450.70" r="4.9" fill="none" stroke="#FF5A00" stroke-width="2.2"/>
<line x1="335.94" y1="175.00" x2="335.94" y2="174.40" stroke="#FF5A00" stroke-width="1.9"/>
<line x1="331.14" y1="174.40" x2="340.74" y2="174.40" stroke="#FF5A00" stroke-width="1.9"/>
<circle cx="335.94" cy="179.90" r="4.9" fill="none" stroke="#FF5A00" stroke-width="2.2"/>
<line x1="346.74" y1="50.20" x2="346.74" y2="49.50" stroke="#FF5A00" stroke-width="1.9"/>
<line x1="341.94" y1="49.50" x2="351.54" y2="49.50" stroke="#FF5A00" stroke-width="1.9"/>
<circle cx="346.74" cy="55.10" r="4.9" fill="none" stroke="#FF5A00" stroke-width="2.2"/>
<line x1="368.33" y1="59.00" x2="368.33" y2="56.30" stroke="#FF5A00" stroke-width="1.9"/>
<line x1="363.53" y1="56.30" x2="373.13" y2="56.30" stroke="#FF5A00" stroke-width="1.9"/>
<circle cx="368.33" cy="63.90" r="4.9" fill="none" stroke="#FF5A00" stroke-width="2.2"/>
<line x1="379.13" y1="80.20" x2="379.13" y2="79.30" stroke="#FF5A00" stroke-width="1.9"/>
<line x1="374.33" y1="79.30" x2="383.93" y2="79.30" stroke="#FF5A00" stroke-width="1.9"/>
<circle cx="379.13" cy="85.10" r="4.9" fill="none" stroke="#FF5A00" stroke-width="2.2"/>
<line x1="389.93" y1="107.40" x2="389.93" y2="107.00" stroke="#FF5A00" stroke-width="1.9"/>
<line x1="385.13" y1="107.00" x2="394.73" y2="107.00" stroke="#FF5A00" stroke-width="1.9"/>
<circle cx="389.93" cy="112.30" r="4.9" fill="none" stroke="#FF5A00" stroke-width="2.2"/>
<line x1="400.72" y1="132.60" x2="400.72" y2="132.20" stroke="#FF5A00" stroke-width="1.9"/>
<line x1="395.92" y1="132.20" x2="405.52" y2="132.20" stroke="#FF5A00" stroke-width="1.9"/>
<circle cx="400.72" cy="137.50" r="4.9" fill="none" stroke="#FF5A00" stroke-width="2.2"/>
<line x1="411.52" y1="150.60" x2="411.52" y2="150.20" stroke="#FF5A00" stroke-width="1.9"/>
<line x1="406.72" y1="150.20" x2="416.32" y2="150.20" stroke="#FF5A00" stroke-width="1.9"/>
<circle cx="411.52" cy="155.50" r="4.9" fill="none" stroke="#FF5A00" stroke-width="2.2"/>
<circle cx="422.32" cy="176.30" r="4.9" fill="none" stroke="#FF5A00" stroke-width="2.2"/>
<circle cx="433.12" cy="191.50" r="4.9" fill="none" stroke="#FF5A00" stroke-width="2.2"/>
<circle cx="443.91" cy="213.10" r="4.9" fill="none" stroke="#FF5A00" stroke-width="2.2"/>
<circle cx="454.71" cy="232.30" r="4.9" fill="none" stroke="#FF5A00" stroke-width="2.2"/>
<circle cx="465.51" cy="245.50" r="4.9" fill="none" stroke="#FF5A00" stroke-width="2.2"/>
<circle cx="476.30" cy="261.50" r="4.9" fill="none" stroke="#FF5A00" stroke-width="2.2"/>
<circle cx="487.10" cy="271.90" r="4.9" fill="none" stroke="#FF5A00" stroke-width="2.2"/>
<circle cx="497.90" cy="288.70" r="4.9" fill="none" stroke="#FF5A00" stroke-width="2.2"/>
<circle cx="508.69" cy="301.50" r="4.9" fill="none" stroke="#FF5A00" stroke-width="2.2"/>
<circle cx="519.49" cy="307.10" r="4.9" fill="none" stroke="#FF5A00" stroke-width="2.2"/>
<circle cx="530.29" cy="319.90" r="4.9" fill="none" stroke="#FF5A00" stroke-width="2.2"/>
<circle cx="541.09" cy="329.90" r="4.9" fill="none" stroke="#FF5A00" stroke-width="2.2"/>
<circle cx="551.88" cy="336.70" r="4.9" fill="none" stroke="#FF5A00" stroke-width="2.2"/>
<circle cx="562.68" cy="347.50" r="4.9" fill="none" stroke="#FF5A00" stroke-width="2.2"/>
<circle cx="573.48" cy="353.10" r="4.9" fill="none" stroke="#FF5A00" stroke-width="2.2"/>
<circle cx="584.27" cy="359.50" r="4.9" fill="none" stroke="#FF5A00" stroke-width="2.2"/>
<circle cx="595.07" cy="365.10" r="4.9" fill="none" stroke="#FF5A00" stroke-width="2.2"/>
<circle cx="605.87" cy="367.10" r="4.9" fill="none" stroke="#FF5A00" stroke-width="2.2"/>
<circle cx="616.66" cy="375.50" r="4.9" fill="none" stroke="#FF5A00" stroke-width="2.2"/>
<circle cx="627.46" cy="380.30" r="4.9" fill="none" stroke="#FF5A00" stroke-width="2.2"/>
<circle cx="638.26" cy="389.50" r="4.9" fill="none" stroke="#FF5A00" stroke-width="2.2"/>
<circle cx="649.06" cy="395.90" r="4.9" fill="none" stroke="#FF5A00" stroke-width="2.2"/>
<circle cx="659.85" cy="393.90" r="4.9" fill="none" stroke="#FF5A00" stroke-width="2.2"/>
<circle cx="670.65" cy="398.70" r="4.9" fill="none" stroke="#FF5A00" stroke-width="2.2"/>
<circle cx="681.45" cy="399.90" r="4.9" fill="none" stroke="#FF5A00" stroke-width="2.2"/>
<circle cx="692.24" cy="404.70" r="4.9" fill="none" stroke="#FF5A00" stroke-width="2.2"/>
<circle cx="703.04" cy="411.50" r="4.9" fill="none" stroke="#FF5A00" stroke-width="2.2"/>
<circle cx="713.84" cy="409.10" r="4.9" fill="none" stroke="#FF5A00" stroke-width="2.2"/>
<circle cx="724.63" cy="414.30" r="4.9" fill="none" stroke="#FF5A00" stroke-width="2.2"/>
<circle cx="735.43" cy="417.50" r="4.9" fill="none" stroke="#FF5A00" stroke-width="2.2"/>
<circle cx="746.23" cy="419.10" r="4.9" fill="none" stroke="#FF5A00" stroke-width="2.2"/>
<circle cx="757.03" cy="424.30" r="4.9" fill="none" stroke="#FF5A00" stroke-width="2.2"/>
<circle cx="767.82" cy="427.10" r="4.9" fill="none" stroke="#FF5A00" stroke-width="2.2"/>
<circle cx="778.62" cy="428.70" r="4.9" fill="none" stroke="#FF5A00" stroke-width="2.2"/>
<circle cx="789.42" cy="429.90" r="4.9" fill="none" stroke="#FF5A00" stroke-width="2.2"/>
<circle cx="800.21" cy="429.90" r="4.9" fill="none" stroke="#FF5A00" stroke-width="2.2"/>
<circle cx="811.01" cy="436.30" r="4.9" fill="none" stroke="#FF5A00" stroke-width="2.2"/>
<circle cx="821.81" cy="436.70" r="4.9" fill="none" stroke="#FF5A00" stroke-width="2.2"/>
<circle cx="832.60" cy="439.90" r="4.9" fill="none" stroke="#FF5A00" stroke-width="2.2"/>
<circle cx="843.40" cy="439.90" r="4.9" fill="none" stroke="#FF5A00" stroke-width="2.2"/>
<circle cx="854.20" cy="442.70" r="4.9" fill="none" stroke="#FF5A00" stroke-width="2.2"/>
<circle cx="865.00" cy="442.70" r="4.9" fill="none" stroke="#FF5A00" stroke-width="2.2"/>
<circle cx="875.79" cy="441.90" r="4.9" fill="none" stroke="#FF5A00" stroke-width="2.2"/>
<circle cx="886.59" cy="442.70" r="4.9" fill="none" stroke="#FF5A00" stroke-width="2.2"/>
<circle cx="897.39" cy="445.50" r="4.9" fill="none" stroke="#FF5A00" stroke-width="2.2"/>
<circle cx="908.18" cy="445.90" r="4.9" fill="none" stroke="#FF5A00" stroke-width="2.2"/>
<circle cx="918.98" cy="446.70" r="4.9" fill="none" stroke="#FF5A00" stroke-width="2.2"/>
<line x1="325.15" y1="467.60" x2="325.15" y2="468.70" stroke="#C58D4A" stroke-width="1.9"/>
<line x1="320.35" y1="468.70" x2="329.95" y2="468.70" stroke="#C58D4A" stroke-width="1.9"/>
<circle cx="325.15" cy="462.70" r="4.9" fill="none" stroke="#C58D4A" stroke-width="2.2"/>
<line x1="335.94" y1="241.60" x2="335.94" y2="242.90" stroke="#C58D4A" stroke-width="1.9"/>
<line x1="331.14" y1="242.90" x2="340.74" y2="242.90" stroke="#C58D4A" stroke-width="1.9"/>
<circle cx="335.94" cy="236.70" r="4.9" fill="none" stroke="#C58D4A" stroke-width="2.2"/>
<line x1="346.74" y1="140.00" x2="346.74" y2="146.50" stroke="#C58D4A" stroke-width="1.9"/>
<line x1="341.94" y1="146.50" x2="351.54" y2="146.50" stroke="#C58D4A" stroke-width="1.9"/>
<circle cx="346.74" cy="135.10" r="4.9" fill="none" stroke="#C58D4A" stroke-width="2.2"/>
<line x1="357.54" y1="124.40" x2="357.54" y2="130.10" stroke="#C58D4A" stroke-width="1.9"/>
<line x1="352.74" y1="130.10" x2="362.34" y2="130.10" stroke="#C58D4A" stroke-width="1.9"/>
<circle cx="357.54" cy="119.50" r="4.9" fill="none" stroke="#C58D4A" stroke-width="2.2"/>
<line x1="368.33" y1="133.20" x2="368.33" y2="140.80" stroke="#C58D4A" stroke-width="1.9"/>
<line x1="363.53" y1="140.80" x2="373.13" y2="140.80" stroke="#C58D4A" stroke-width="1.9"/>
<circle cx="368.33" cy="128.30" r="4.9" fill="none" stroke="#C58D4A" stroke-width="2.2"/>
<line x1="379.13" y1="145.60" x2="379.13" y2="151.00" stroke="#C58D4A" stroke-width="1.9"/>
<line x1="374.33" y1="151.00" x2="383.93" y2="151.00" stroke="#C58D4A" stroke-width="1.9"/>
<circle cx="379.13" cy="140.70" r="4.9" fill="none" stroke="#C58D4A" stroke-width="2.2"/>
<line x1="389.93" y1="162.80" x2="389.93" y2="168.10" stroke="#C58D4A" stroke-width="1.9"/>
<line x1="385.13" y1="168.10" x2="394.73" y2="168.10" stroke="#C58D4A" stroke-width="1.9"/>
<circle cx="389.93" cy="157.90" r="4.9" fill="none" stroke="#C58D4A" stroke-width="2.2"/>
<line x1="400.72" y1="180.00" x2="400.72" y2="186.10" stroke="#C58D4A" stroke-width="1.9"/>
<line x1="395.92" y1="186.10" x2="405.52" y2="186.10" stroke="#C58D4A" stroke-width="1.9"/>
<circle cx="400.72" cy="175.10" r="4.9" fill="none" stroke="#C58D4A" stroke-width="2.2"/>
<line x1="411.52" y1="196.40" x2="411.52" y2="202.00" stroke="#C58D4A" stroke-width="1.9"/>
<line x1="406.72" y1="202.00" x2="416.32" y2="202.00" stroke="#C58D4A" stroke-width="1.9"/>
<circle cx="411.52" cy="191.50" r="4.9" fill="none" stroke="#C58D4A" stroke-width="2.2"/>
<line x1="422.32" y1="212.00" x2="422.32" y2="217.10" stroke="#C58D4A" stroke-width="1.9"/>
<line x1="417.52" y1="217.10" x2="427.12" y2="217.10" stroke="#C58D4A" stroke-width="1.9"/>
<circle cx="422.32" cy="207.10" r="4.9" fill="none" stroke="#C58D4A" stroke-width="2.2"/>
<line x1="433.12" y1="222.80" x2="433.12" y2="227.40" stroke="#C58D4A" stroke-width="1.9"/>
<line x1="428.32" y1="227.40" x2="437.92" y2="227.40" stroke="#C58D4A" stroke-width="1.9"/>
<circle cx="433.12" cy="217.90" r="4.9" fill="none" stroke="#C58D4A" stroke-width="2.2"/>
<line x1="443.91" y1="236.40" x2="443.91" y2="238.00" stroke="#C58D4A" stroke-width="1.9"/>
<line x1="439.11" y1="238.00" x2="448.71" y2="238.00" stroke="#C58D4A" stroke-width="1.9"/>
<circle cx="443.91" cy="231.50" r="4.9" fill="none" stroke="#C58D4A" stroke-width="2.2"/>
<line x1="454.71" y1="248.40" x2="454.71" y2="250.70" stroke="#C58D4A" stroke-width="1.9"/>
<line x1="449.91" y1="250.70" x2="459.51" y2="250.70" stroke="#C58D4A" stroke-width="1.9"/>
<circle cx="454.71" cy="243.50" r="4.9" fill="none" stroke="#C58D4A" stroke-width="2.2"/>
<line x1="465.51" y1="261.20" x2="465.51" y2="262.50" stroke="#C58D4A" stroke-width="1.9"/>
<line x1="460.71" y1="262.50" x2="470.31" y2="262.50" stroke="#C58D4A" stroke-width="1.9"/>
<circle cx="465.51" cy="256.30" r="4.9" fill="none" stroke="#C58D4A" stroke-width="2.2"/>
<line x1="476.30" y1="275.20" x2="476.30" y2="275.80" stroke="#C58D4A" stroke-width="1.9"/>
<line x1="471.50" y1="275.80" x2="481.10" y2="275.80" stroke="#C58D4A" stroke-width="1.9"/>
<circle cx="476.30" cy="270.30" r="4.9" fill="none" stroke="#C58D4A" stroke-width="2.2"/>
<line x1="487.10" y1="284.00" x2="487.10" y2="285.30" stroke="#C58D4A" stroke-width="1.9"/>
<line x1="482.30" y1="285.30" x2="491.90" y2="285.30" stroke="#C58D4A" stroke-width="1.9"/>
<circle cx="487.10" cy="279.10" r="4.9" fill="none" stroke="#C58D4A" stroke-width="2.2"/>
<line x1="497.90" y1="298.40" x2="497.90" y2="299.00" stroke="#C58D4A" stroke-width="1.9"/>
<line x1="493.10" y1="299.00" x2="502.70" y2="299.00" stroke="#C58D4A" stroke-width="1.9"/>
<circle cx="497.90" cy="293.50" r="4.9" fill="none" stroke="#C58D4A" stroke-width="2.2"/>
<circle cx="508.69" cy="302.70" r="4.9" fill="none" stroke="#C58D4A" stroke-width="2.2"/>
<circle cx="519.49" cy="309.90" r="4.9" fill="none" stroke="#C58D4A" stroke-width="2.2"/>
<circle cx="530.29" cy="318.70" r="4.9" fill="none" stroke="#C58D4A" stroke-width="2.2"/>
<circle cx="541.09" cy="329.50" r="4.9" fill="none" stroke="#C58D4A" stroke-width="2.2"/>
<circle cx="551.88" cy="337.50" r="4.9" fill="none" stroke="#C58D4A" stroke-width="2.2"/>
<circle cx="562.68" cy="342.30" r="4.9" fill="none" stroke="#C58D4A" stroke-width="2.2"/>
<circle cx="573.48" cy="347.90" r="4.9" fill="none" stroke="#C58D4A" stroke-width="2.2"/>
<circle cx="584.27" cy="354.70" r="4.9" fill="none" stroke="#C58D4A" stroke-width="2.2"/>
<circle cx="595.07" cy="360.70" r="4.9" fill="none" stroke="#C58D4A" stroke-width="2.2"/>
<circle cx="605.87" cy="364.30" r="4.9" fill="none" stroke="#C58D4A" stroke-width="2.2"/>
<circle cx="616.66" cy="370.70" r="4.9" fill="none" stroke="#C58D4A" stroke-width="2.2"/>
<circle cx="627.46" cy="376.70" r="4.9" fill="none" stroke="#C58D4A" stroke-width="2.2"/>
<circle cx="638.26" cy="384.70" r="4.9" fill="none" stroke="#C58D4A" stroke-width="2.2"/>
<circle cx="649.06" cy="385.10" r="4.9" fill="none" stroke="#C58D4A" stroke-width="2.2"/>
<circle cx="659.85" cy="391.90" r="4.9" fill="none" stroke="#C58D4A" stroke-width="2.2"/>
<circle cx="670.65" cy="390.70" r="4.9" fill="none" stroke="#C58D4A" stroke-width="2.2"/>
<circle cx="681.45" cy="395.10" r="4.9" fill="none" stroke="#C58D4A" stroke-width="2.2"/>
<circle cx="692.24" cy="401.50" r="4.9" fill="none" stroke="#C58D4A" stroke-width="2.2"/>
<circle cx="703.04" cy="403.90" r="4.9" fill="none" stroke="#C58D4A" stroke-width="2.2"/>
<circle cx="713.84" cy="407.90" r="4.9" fill="none" stroke="#C58D4A" stroke-width="2.2"/>
<circle cx="724.63" cy="410.70" r="4.9" fill="none" stroke="#C58D4A" stroke-width="2.2"/>
<circle cx="735.43" cy="413.50" r="4.9" fill="none" stroke="#C58D4A" stroke-width="2.2"/>
<circle cx="746.23" cy="415.90" r="4.9" fill="none" stroke="#C58D4A" stroke-width="2.2"/>
<circle cx="757.03" cy="420.70" r="4.9" fill="none" stroke="#C58D4A" stroke-width="2.2"/>
<circle cx="767.82" cy="426.70" r="4.9" fill="none" stroke="#C58D4A" stroke-width="2.2"/>
<circle cx="778.62" cy="425.10" r="4.9" fill="none" stroke="#C58D4A" stroke-width="2.2"/>
<circle cx="789.42" cy="426.70" r="4.9" fill="none" stroke="#C58D4A" stroke-width="2.2"/>
<circle cx="800.21" cy="429.90" r="4.9" fill="none" stroke="#C58D4A" stroke-width="2.2"/>
<circle cx="811.01" cy="428.30" r="4.9" fill="none" stroke="#C58D4A" stroke-width="2.2"/>
<circle cx="821.81" cy="432.70" r="4.9" fill="none" stroke="#C58D4A" stroke-width="2.2"/>
<circle cx="832.60" cy="434.70" r="4.9" fill="none" stroke="#C58D4A" stroke-width="2.2"/>
<circle cx="843.40" cy="437.90" r="4.9" fill="none" stroke="#C58D4A" stroke-width="2.2"/>
<circle cx="854.20" cy="441.10" r="4.9" fill="none" stroke="#C58D4A" stroke-width="2.2"/>
<circle cx="865.00" cy="440.70" r="4.9" fill="none" stroke="#C58D4A" stroke-width="2.2"/>
<circle cx="875.79" cy="440.30" r="4.9" fill="none" stroke="#C58D4A" stroke-width="2.2"/>
<circle cx="886.59" cy="444.30" r="4.9" fill="none" stroke="#C58D4A" stroke-width="2.2"/>
<circle cx="897.39" cy="443.10" r="4.9" fill="none" stroke="#C58D4A" stroke-width="2.2"/>
<circle cx="908.18" cy="445.90" r="4.9" fill="none" stroke="#C58D4A" stroke-width="2.2"/>
<circle cx="918.98" cy="448.70" r="4.9" fill="none" stroke="#C58D4A" stroke-width="2.2"/>
<defs><clipPath id="clipC"><rect x="756" y="894.5" width="523" height="420"/></clipPath></defs>
<g clip-path="url(#clipC)">
<line x1="756" y1="1300.6" x2="776" y2="1300.6" stroke="#007A00" stroke-width="3.0"/>
<line x1="756" y1="1301.2" x2="760" y2="1301.2" stroke="#C48C48" stroke-width="3.0"/>
<polyline points="775,1301.2 812,1301.2 818.4,1300.4" fill="none" stroke="#C48C48" stroke-width="3.0"/>
<polyline points="775,1299.3 810,1299.1 818,1296.5" fill="none" stroke="#007A00" stroke-width="1.3"/>
<polyline points="818.39,1301.60 820.24,1296.63 822.09,1291.72 823.94,1286.87 825.79,1282.09 827.63,1277.37 829.48,1272.71 831.33,1268.12 833.18,1263.58 835.03,1259.11 836.88,1254.69 838.73,1250.33 840.58,1246.03 842.42,1241.79 844.27,1237.60 846.12,1233.47 847.97,1229.39 849.82,1225.37 851.67,1221.40 853.52,1217.48 855.37,1213.62 857.21,1209.80 859.06,1206.04 860.91,1202.33 862.76,1198.66 864.61,1195.05 866.46,1191.48 868.31,1187.97 870.16,1184.49 872.00,1181.07 873.85,1177.69 875.70,1174.36 877.55,1171.07 879.40,1167.82 881.25,1164.62 883.10,1161.47 884.95,1158.35 886.79,1155.28 888.64,1152.25 890.49,1149.26 892.34,1146.31 894.19,1143.40 896.04,1140.53 897.89,1137.70 899.74,1134.90 901.58,1132.15 903.43,1129.43 905.28,1126.75 907.13,1124.11 908.98,1121.50 910.83,1118.93 912.68,1116.40 914.53,1113.90 916.37,1111.43 918.22,1109.00 920.07,1106.60 921.92,1104.24 923.77,1101.90 925.62,1099.60 927.47,1097.34 929.32,1095.10 931.16,1092.89 933.01,1090.72 934.86,1088.58 936.71,1086.46 938.56,1084.38 940.41,1082.32 942.26,1080.30 944.11,1078.30 945.95,1076.33 947.80,1074.39 949.65,1072.48 951.50,1070.59 953.35,1068.73 955.20,1066.90 957.05,1065.09 958.90,1063.31 960.75,1061.55 962.59,1059.82 964.44,1058.12 966.29,1056.43 968.14,1054.78 969.99,1053.15 971.84,1051.54 973.69,1049.95 975.54,1048.39 977.38,1046.85 979.23,1045.33 981.08,1043.84 982.93,1042.36 984.78,1040.91 986.63,1039.48 988.48,1038.07 990.33,1036.68 992.17,1035.32 994.02,1033.97 995.87,1032.64 997.72,1031.34 999.57,1030.05 1001.42,1028.78 1003.27,1027.53 1005.12,1026.30 1006.96,1025.09 1008.81,1023.90 1010.66,1022.72 1012.51,1021.57 1014.36,1020.43 1016.21,1019.31 1018.06,1018.20 1019.91,1017.11 1021.75,1016.04 1023.60,1014.99 1025.45,1013.95 1027.30,1012.93 1029.15,1011.93 1031.00,1010.94 1032.85,1009.97 1034.70,1009.01 1036.54,1008.06 1038.39,1007.14 1040.24,1006.22 1042.09,1005.33 1043.94,1004.44 1045.79,1003.57 1047.64,1002.72 1049.49,1001.88 1051.33,1001.05 1053.18,1000.23 1055.03,999.43 1056.88,998.65 1058.73,997.87 1060.58,997.11 1062.43,996.36 1064.28,995.63 1066.12,994.91 1067.97,994.19 1069.82,993.50 1071.67,992.81 1073.52,992.13 1075.37,991.47 1077.22,990.82 1079.07,990.18 1080.91,989.55 1082.76,988.93 1084.61,988.32 1086.46,987.73 1088.31,987.14 1090.16,986.57 1092.01,986.00 1093.86,985.45 1095.71,984.91 1097.55,984.37 1099.40,983.85 1101.25,983.33 1103.10,982.83 1104.95,982.33 1106.80,981.85 1108.65,981.37 1110.50,980.91 1112.34,980.45 1114.19,980.00 1116.04,979.56 1117.89,979.13 1119.74,978.70 1121.59,978.29 1123.44,977.88 1125.29,977.49 1127.13,977.10 1128.98,976.71 1130.83,976.34 1132.68,975.98 1134.53,975.62 1136.38,975.27 1138.23,974.93 1140.08,974.59 1141.92,974.26 1143.77,973.94 1145.62,973.63 1147.47,973.32 1149.32,973.03 1151.17,972.73 1153.02,972.45 1154.87,972.17 1156.71,971.90 1158.56,971.63 1160.41,971.37 1162.26,971.12 1164.11,970.88 1165.96,970.64 1167.81,970.40 1169.66,970.18 1171.50,969.95 1173.35,969.74 1175.20,969.53 1177.05,969.33 1178.90,969.13 1180.75,968.94 1182.60,968.75 1184.45,968.57 1186.29,968.39 1188.14,968.22 1189.99,968.06 1191.84,967.90 1193.69,967.74 1195.54,967.59 1197.39,967.45 1199.24,967.31 1201.08,967.17 1202.93,967.04 1204.78,966.92 1206.63,966.80 1208.48,966.68 1210.33,966.57 1212.18,966.46 1214.03,966.36 1215.87,966.26 1217.72,966.17 1219.57,966.08 1221.42,966.00 1223.27,965.92 1225.12,965.84 1226.97,965.77 1228.82,965.70 1230.67,965.63 1232.51,965.57 1234.36,965.52 1236.21,965.46 1238.06,965.41 1239.91,965.37 1241.76,965.33 1243.61,965.29 1245.46,965.25 1247.30,965.22 1249.15,965.20 1251.00,965.17 1252.85,965.15 1254.70,965.13 1256.55,965.12 1258.40,965.11 1260.25,965.10 1262.09,965.10 1263.94,965.10 1265.79,965.10 1267.64,965.10 1269.49,965.11 1271.34,965.12 1273.19,965.13 1275.04,965.15 1276.88,965.17 1278.73,965.19" fill="none" stroke="#C48C48" stroke-width="3.9" stroke-linejoin="round"/>
<polyline points="818.39,1301.60 820.24,1296.41 822.09,1291.30 823.94,1286.24 825.79,1281.25 827.63,1276.32 829.48,1271.46 831.33,1266.65 833.18,1261.91 835.03,1257.23 836.88,1252.61 838.73,1248.04 840.58,1243.54 842.42,1239.09 844.27,1234.70 846.12,1230.37 847.97,1226.09 849.82,1221.86 851.67,1217.69 853.52,1213.58 855.37,1209.51 857.21,1205.50 859.06,1201.54 860.91,1197.63 862.76,1193.78 864.61,1189.97 866.46,1186.21 868.31,1182.50 870.16,1178.83 872.00,1175.22 873.85,1171.65 875.70,1168.13 877.55,1164.65 879.40,1161.22 881.25,1157.84 883.10,1154.49 884.95,1151.19 886.79,1147.94 888.64,1144.73 890.49,1141.56 892.34,1138.43 894.19,1135.34 896.04,1132.29 897.89,1129.29 899.74,1126.32 901.58,1123.39 903.43,1120.50 905.28,1117.65 907.13,1114.84 908.98,1112.06 910.83,1109.32 912.68,1106.62 914.53,1103.95 916.37,1101.32 918.22,1098.72 920.07,1096.16 921.92,1093.64 923.77,1091.14 925.62,1088.68 927.47,1086.26 929.32,1083.86 931.16,1081.50 933.01,1079.17 934.86,1076.87 936.71,1074.61 938.56,1072.37 940.41,1070.17 942.26,1067.99 944.11,1065.84 945.95,1063.73 947.80,1061.64 949.65,1059.58 951.50,1057.55 953.35,1055.55 955.20,1053.58 957.05,1051.63 958.90,1049.71 960.75,1047.81 962.59,1045.95 964.44,1044.11 966.29,1042.29 968.14,1040.50 969.99,1038.73 971.84,1036.99 973.69,1035.28 975.54,1033.59 977.38,1031.92 979.23,1030.27 981.08,1028.65 982.93,1027.06 984.78,1025.48 986.63,1023.93 988.48,1022.40 990.33,1020.89 992.17,1019.40 994.02,1017.94 995.87,1016.50 997.72,1015.07 999.57,1013.67 1001.42,1012.29 1003.27,1010.93 1005.12,1009.59 1006.96,1008.27 1008.81,1006.96 1010.66,1005.68 1012.51,1004.42 1014.36,1003.17 1016.21,1001.94 1018.06,1000.74 1019.91,999.55 1021.75,998.37 1023.60,997.22 1025.45,996.08 1027.30,994.96 1029.15,993.86 1031.00,992.77 1032.85,991.70 1034.70,990.65 1036.54,989.61 1038.39,988.59 1040.24,987.59 1042.09,986.60 1043.94,985.63 1045.79,984.67 1047.64,983.72 1049.49,982.80 1051.33,981.88 1053.18,980.98 1055.03,980.10 1056.88,979.23 1058.73,978.37 1060.58,977.53 1062.43,976.70 1064.28,975.88 1066.12,975.08 1067.97,974.29 1069.82,973.52 1071.67,972.76 1073.52,972.01 1075.37,971.27 1077.22,970.54 1079.07,969.83 1080.91,969.13 1082.76,968.44 1084.61,967.76 1086.46,967.10 1088.31,966.45 1090.16,965.80 1092.01,965.17 1093.86,964.55 1095.71,963.94 1097.55,963.35 1099.40,962.76 1101.25,962.18 1103.10,961.62 1104.95,961.06 1106.80,960.51 1108.65,959.98 1110.50,959.45 1112.34,958.94 1114.19,958.43 1116.04,957.94 1117.89,957.45 1119.74,956.97 1121.59,956.50 1123.44,956.05 1125.29,955.60 1127.13,955.15 1128.98,954.72 1130.83,954.30 1132.68,953.88 1134.53,953.48 1136.38,953.08 1138.23,952.69 1140.08,952.31 1141.92,951.94 1143.77,951.57 1145.62,951.21 1147.47,950.86 1149.32,950.52 1151.17,950.19 1153.02,949.86 1154.87,949.54 1156.71,949.23 1158.56,948.92 1160.41,948.63 1162.26,948.34 1164.11,948.05 1165.96,947.78 1167.81,947.51 1169.66,947.24 1171.50,946.99 1173.35,946.74 1175.20,946.49 1177.05,946.26 1178.90,946.03 1180.75,945.80 1182.60,945.58 1184.45,945.37 1186.29,945.16 1188.14,944.96 1189.99,944.77 1191.84,944.58 1193.69,944.40 1195.54,944.22 1197.39,944.05 1199.24,943.88 1201.08,943.72 1202.93,943.57 1204.78,943.42 1206.63,943.27 1208.48,943.13 1210.33,943.00 1212.18,942.87 1214.03,942.74 1215.87,942.62 1217.72,942.51 1219.57,942.40 1221.42,942.29 1223.27,942.19 1225.12,942.10 1226.97,942.01 1228.82,941.92 1230.67,941.84 1232.51,941.76 1234.36,941.68 1236.21,941.61 1238.06,941.55 1239.91,941.49 1241.76,941.43 1243.61,941.38 1245.46,941.33 1247.30,941.29 1249.15,941.24 1251.00,941.21 1252.85,941.17 1254.70,941.14 1256.55,941.12 1258.40,941.10 1260.25,941.08 1262.09,941.06 1263.94,941.05 1265.79,941.04 1267.64,941.04 1269.49,941.04 1271.34,941.04 1273.19,941.05 1275.04,941.06 1276.88,941.07 1278.73,941.08" fill="none" stroke="#007A00" stroke-width="4.2" stroke-linejoin="round"/>
<polyline points="818.39,1301.60 820.24,1295.28 822.09,1289.06 823.94,1282.92 825.79,1276.87 827.63,1270.90 829.48,1265.01 831.33,1259.21 833.18,1253.49 835.03,1247.86 836.88,1242.30 838.73,1236.82 840.58,1231.42 842.42,1226.09 844.27,1220.84 846.12,1215.67 847.97,1210.57 849.82,1205.54 851.67,1200.58 853.52,1195.70 855.37,1190.88 857.21,1186.14 859.06,1181.46 860.91,1176.84 862.76,1172.30 864.61,1167.82 866.46,1163.40 868.31,1159.05 870.16,1154.76 872.00,1150.54 873.85,1146.37 875.70,1142.26 877.55,1138.22 879.40,1134.23 881.25,1130.30 883.10,1126.43 884.95,1122.61 886.79,1118.85 888.64,1115.15 890.49,1111.50 892.34,1107.90 894.19,1104.36 896.04,1100.87 897.89,1097.42 899.74,1094.03 901.58,1090.70 903.43,1087.41 905.28,1084.16 907.13,1080.97 908.98,1077.82 910.83,1074.73 912.68,1071.67 914.53,1068.67 916.37,1065.70 918.22,1062.79 920.07,1059.91 921.92,1057.08 923.77,1054.30 925.62,1051.55 927.47,1048.85 929.32,1046.18 931.16,1043.56 933.01,1040.98 934.86,1038.44 936.71,1035.93 938.56,1033.47 940.41,1031.04 942.26,1028.65 944.11,1026.29 945.95,1023.98 947.80,1021.69 949.65,1019.45 951.50,1017.24 953.35,1015.06 955.20,1012.92 957.05,1010.81 958.90,1008.73 960.75,1006.69 962.59,1004.68 964.44,1002.70 966.29,1000.75 968.14,998.84 969.99,996.95 971.84,995.10 973.69,993.27 975.54,991.47 977.38,989.71 979.23,987.97 981.08,986.26 982.93,984.57 984.78,982.92 986.63,981.29 988.48,979.69 990.33,978.11 992.17,976.56 994.02,975.04 995.87,973.54 997.72,972.07 999.57,970.62 1001.42,969.20 1003.27,967.80 1005.12,966.42 1006.96,965.07 1008.81,963.74 1010.66,962.43 1012.51,961.14 1014.36,959.88 1016.21,958.64 1018.06,957.42 1019.91,956.22 1021.75,955.05 1023.60,953.89 1025.45,952.76 1027.30,951.64 1029.15,950.55 1031.00,949.47 1032.85,948.41 1034.70,947.38 1036.54,946.36 1038.39,945.36 1040.24,944.38 1042.09,943.41 1043.94,942.47 1045.79,941.54 1047.64,940.63 1049.49,939.73 1051.33,938.86 1053.18,938.00 1055.03,937.15 1056.88,936.33 1058.73,935.52 1060.58,934.72 1062.43,933.94 1064.28,933.18 1066.12,932.43 1067.97,931.69 1069.82,930.97 1071.67,930.27 1073.52,929.58 1075.37,928.90 1077.22,928.24 1079.07,927.59 1080.91,926.96 1082.76,926.34 1084.61,925.73 1086.46,925.13 1088.31,924.55 1090.16,923.98 1092.01,923.43 1093.86,922.88 1095.71,922.35 1097.55,921.83 1099.40,921.32 1101.25,920.82 1103.10,920.34 1104.95,919.87 1106.80,919.40 1108.65,918.95 1110.50,918.51 1112.34,918.08 1114.19,917.66 1116.04,917.26 1117.89,916.86 1119.74,916.47 1121.59,916.09 1123.44,915.73 1125.29,915.37 1127.13,915.02 1128.98,914.68 1130.83,914.35 1132.68,914.03 1134.53,913.72 1136.38,913.42 1138.23,913.13 1140.08,912.84 1141.92,912.57 1143.77,912.30 1145.62,912.04 1147.47,911.79 1149.32,911.55 1151.17,911.32 1153.02,911.09 1154.87,910.87 1156.71,910.66 1158.56,910.46 1160.41,910.27 1162.26,910.08 1164.11,909.90 1165.96,909.73 1167.81,909.56 1169.66,909.40 1171.50,909.25 1173.35,909.11 1175.20,908.97 1177.05,908.84 1178.90,908.71 1180.75,908.59 1182.60,908.48 1184.45,908.37 1186.29,908.27 1188.14,908.18 1189.99,908.09 1191.84,908.01 1193.69,907.94 1195.54,907.87 1197.39,907.80 1199.24,907.75 1201.08,907.69 1202.93,907.64 1204.78,907.60 1206.63,907.57 1208.48,907.53 1210.33,907.51 1212.18,907.49 1214.03,907.47 1215.87,907.46 1217.72,907.45 1219.57,907.45 1221.42,907.46 1223.27,907.46 1225.12,907.48 1226.97,907.49 1228.82,907.51 1230.67,907.54 1232.51,907.57 1234.36,907.61 1236.21,907.64 1238.06,907.69 1239.91,907.73 1241.76,907.79 1243.61,907.84 1245.46,907.90 1247.30,907.96 1249.15,908.03 1251.00,908.10 1252.85,908.17 1254.70,908.25 1256.55,908.33 1258.40,908.42 1260.25,908.51 1262.09,908.60 1263.94,908.70 1265.79,908.79 1267.64,908.90 1269.49,909.00 1271.34,909.11 1273.19,909.22 1275.04,909.34 1276.88,909.46 1278.73,909.58" fill="none" stroke="#FF5A00" stroke-width="3.8" stroke-linejoin="round"/>
<polyline points="817.97,1301.60 819.82,1300.35 821.67,1299.11 823.52,1297.88 825.38,1296.66 827.23,1295.45 829.08,1294.26 830.93,1293.07 832.78,1291.90 834.63,1290.73 836.48,1289.58 838.33,1288.44 840.18,1287.31 842.03,1286.19 843.88,1285.07 845.73,1283.97 847.58,1282.88 849.43,1281.80 851.28,1280.73 853.13,1279.67 854.98,1278.62 856.83,1277.58 858.68,1276.54 860.53,1275.52 862.38,1274.51 864.23,1273.50 866.08,1272.51 867.94,1271.53 869.79,1270.55 871.64,1269.58 873.49,1268.62 875.34,1267.67 877.19,1266.73 879.04,1265.80 880.89,1264.88 882.74,1263.97 884.59,1263.06 886.44,1262.16 888.29,1261.27 890.14,1260.39 891.99,1259.52 893.84,1258.66 895.69,1257.80 897.54,1256.95 899.39,1256.11 901.24,1255.28 903.09,1254.45 904.94,1253.64 906.79,1252.83 908.64,1252.03 910.50,1251.23 912.35,1250.44 914.20,1249.67 916.05,1248.89 917.90,1248.13 919.75,1247.37 921.60,1246.62 923.45,1245.88 925.30,1245.14 927.15,1244.41 929.00,1243.69 930.85,1242.98 932.70,1242.27 934.55,1241.57 936.40,1240.87 938.25,1240.18 940.10,1239.50 941.95,1238.83 943.80,1238.16 945.65,1237.50 947.50,1236.84 949.35,1236.19 951.21,1235.55 953.06,1234.91 954.91,1234.28 956.76,1233.65 958.61,1233.03 960.46,1232.42 962.31,1231.81 964.16,1231.21 966.01,1230.62 967.86,1230.03 969.71,1229.44 971.56,1228.87 973.41,1228.29 975.26,1227.73 977.11,1227.17 978.96,1226.61 980.81,1226.06 982.66,1225.51 984.51,1224.97 986.36,1224.44 988.21,1223.91 990.06,1223.39 991.91,1222.87 993.77,1222.35 995.62,1221.85 997.47,1221.34 999.32,1220.84 1001.17,1220.35 1003.02,1219.86 1004.87,1219.38 1006.72,1218.90 1008.57,1218.42 1010.42,1217.96 1012.27,1217.49 1014.12,1217.03 1015.97,1216.57 1017.82,1216.12 1019.67,1215.68 1021.52,1215.24 1023.37,1214.80 1025.22,1214.37 1027.07,1213.94 1028.92,1213.51 1030.77,1213.09 1032.62,1212.68 1034.47,1212.27 1036.33,1211.86 1038.18,1211.45 1040.03,1211.06 1041.88,1210.66 1043.73,1210.27 1045.58,1209.88 1047.43,1209.50 1049.28,1209.12 1051.13,1208.75 1052.98,1208.38 1054.83,1208.01 1056.68,1207.65 1058.53,1207.29 1060.38,1206.93 1062.23,1206.58 1064.08,1206.23 1065.93,1205.88 1067.78,1205.54 1069.63,1205.21 1071.48,1204.87 1073.33,1204.54 1075.18,1204.21 1077.04,1203.89 1078.89,1203.57 1080.74,1203.25 1082.59,1202.94 1084.44,1202.63 1086.29,1202.32 1088.14,1202.02 1089.99,1201.72 1091.84,1201.42 1093.69,1201.13 1095.54,1200.84 1097.39,1200.55 1099.24,1200.27 1101.09,1199.99 1102.94,1199.71 1104.79,1199.43 1106.64,1199.16 1108.49,1198.89 1110.34,1198.63 1112.19,1198.37 1114.04,1198.11 1115.89,1197.85 1117.74,1197.59 1119.60,1197.34 1121.45,1197.09 1123.30,1196.85 1125.15,1196.60 1127.00,1196.36 1128.85,1196.13 1130.70,1195.89 1132.55,1195.66 1134.40,1195.43 1136.25,1195.20 1138.10,1194.98 1139.95,1194.76 1141.80,1194.54 1143.65,1194.32 1145.50,1194.11 1147.35,1193.90 1149.20,1193.69 1151.05,1193.48 1152.90,1193.27 1154.75,1193.07 1156.60,1192.87 1158.45,1192.68 1160.30,1192.48 1162.16,1192.29 1164.01,1192.10 1165.86,1191.91 1167.71,1191.73 1169.56,1191.54 1171.41,1191.36 1173.26,1191.18 1175.11,1191.00 1176.96,1190.83 1178.81,1190.66 1180.66,1190.49 1182.51,1190.32 1184.36,1190.15 1186.21,1189.99 1188.06,1189.83 1189.91,1189.67 1191.76,1189.51 1193.61,1189.35 1195.46,1189.20 1197.31,1189.05 1199.16,1188.90 1201.01,1188.75 1202.86,1188.60 1204.72,1188.46 1206.57,1188.32 1208.42,1188.18 1210.27,1188.04 1212.12,1187.90 1213.97,1187.77 1215.82,1187.63 1217.67,1187.50 1219.52,1187.37 1221.37,1187.24 1223.22,1187.12 1225.07,1186.99 1226.92,1186.87 1228.77,1186.75 1230.62,1186.63 1232.47,1186.51 1234.32,1186.40 1236.17,1186.28 1238.02,1186.17 1239.87,1186.06 1241.72,1185.95 1243.57,1185.84 1245.43,1185.73 1247.28,1185.63 1249.13,1185.52 1250.98,1185.42 1252.83,1185.32 1254.68,1185.22 1256.53,1185.13 1258.38,1185.03 1260.23,1184.94 1262.08,1184.84 1263.93,1184.75 1265.78,1184.66 1267.63,1184.57 1269.48,1184.49 1271.33,1184.40 1273.18,1184.32 1275.03,1184.23 1276.88,1184.15 1278.73,1184.07" fill="none" stroke="#0000C8" stroke-width="4.2" stroke-linejoin="round"/>
<line x1="819.99" y1="1301.60" x2="970.87" y2="875.72" stroke="#C48C48" stroke-width="4.0" stroke-dasharray="11.5 8.5" stroke-dashoffset="0"/>
<line x1="818.39" y1="1301.60" x2="969.27" y2="875.72" stroke="#007A00" stroke-width="4.2" stroke-dasharray="11.5 8.5" stroke-dashoffset="0"/>
<line x1="818.39" y1="1301.60" x2="942.18" y2="875.72" stroke="#FF5A00" stroke-width="3.4" stroke-dasharray="11.5 8.5" stroke-dashoffset="0"/>
<line x1="817.97" y1="1301.60" x2="1278.73" y2="988.41" stroke="#0000FF" stroke-width="4.2" stroke-dasharray="11.5 8.5" stroke-dashoffset="0"/>
<circle cx="843.39" cy="1240.76" r="6.0" fill="none" stroke="#FF5A00" stroke-width="1.9"/>
<circle cx="968.37" cy="1011.26" r="6.0" fill="none" stroke="#FF5A00" stroke-width="1.9"/>
<circle cx="1093.35" cy="905.80" r="6.0" fill="none" stroke="#FF5A00" stroke-width="1.9"/>
<circle cx="843.39" cy="1250.56" r="6.0" fill="none" stroke="#C48C48" stroke-width="1.9"/>
<line x1="968.37" y1="1064.58" x2="968.37" y2="1067.58" stroke="#C48C48" stroke-width="1.9"/>
<line x1="962.37" y1="1067.58" x2="974.37" y2="1067.58" stroke="#C48C48" stroke-width="2.4"/>
<circle cx="968.37" cy="1058.58" r="6.0" fill="none" stroke="#C48C48" stroke-width="1.9"/>
<line x1="1093.35" y1="979.40" x2="1093.35" y2="982.70" stroke="#C48C48" stroke-width="1.9"/>
<line x1="1087.35" y1="982.70" x2="1099.35" y2="982.70" stroke="#C48C48" stroke-width="2.4"/>
<circle cx="1093.35" cy="973.40" r="6.0" fill="none" stroke="#C48C48" stroke-width="1.9"/>
<line x1="1218.33" y1="965.54" x2="1218.33" y2="968.84" stroke="#C48C48" stroke-width="1.9"/>
<line x1="1212.33" y1="968.84" x2="1224.33" y2="968.84" stroke="#C48C48" stroke-width="2.4"/>
<circle cx="1218.33" cy="959.54" r="6.0" fill="none" stroke="#C48C48" stroke-width="1.9"/>
<line x1="843.39" y1="1245.41" x2="843.39" y2="1251.41" stroke="#007A00" stroke-width="1.9"/>
<line x1="837.39" y1="1251.41" x2="849.39" y2="1251.41" stroke="#007A00" stroke-width="2.4"/>
<circle cx="843.39" cy="1239.41" r="6.0" fill="none" stroke="#007A00" stroke-width="1.9"/>
<line x1="968.37" y1="1061.54" x2="968.37" y2="1065.04" stroke="#007A00" stroke-width="1.9"/>
<line x1="962.37" y1="1065.04" x2="974.37" y2="1065.04" stroke="#007A00" stroke-width="2.4"/>
<circle cx="968.37" cy="1055.54" r="6.0" fill="none" stroke="#007A00" stroke-width="1.9"/>
<line x1="1093.35" y1="959.46" x2="1093.35" y2="962.96" stroke="#007A00" stroke-width="1.9"/>
<line x1="1087.35" y1="962.96" x2="1099.35" y2="962.96" stroke="#007A00" stroke-width="2.4"/>
<circle cx="1093.35" cy="953.46" r="6.0" fill="none" stroke="#007A00" stroke-width="1.9"/>
<line x1="1218.33" y1="940.19" x2="1218.33" y2="945.69" stroke="#007A00" stroke-width="1.9"/>
<line x1="1212.33" y1="945.69" x2="1224.33" y2="945.69" stroke="#007A00" stroke-width="2.4"/>
<circle cx="1218.33" cy="934.19" r="6.0" fill="none" stroke="#007A00" stroke-width="1.9"/>
<circle cx="843.39" cy="1292.81" r="6.0" fill="none" stroke="#0000C8" stroke-width="1.9"/>
<circle cx="968.37" cy="1238.73" r="6.0" fill="none" stroke="#0000C8" stroke-width="1.9"/>
<line x1="1093.35" y1="1192.51" x2="1093.35" y2="1187.51" stroke="#0000C8" stroke-width="1.9"/>
<line x1="1087.35" y1="1187.51" x2="1099.35" y2="1187.51" stroke="#0000C8" stroke-width="2.4"/>
<circle cx="1093.35" cy="1198.51" r="6.0" fill="none" stroke="#0000C8" stroke-width="1.9"/>
<line x1="1218.33" y1="1178.31" x2="1218.33" y2="1176.01" stroke="#0000C8" stroke-width="1.9"/>
<line x1="1212.33" y1="1176.01" x2="1224.33" y2="1176.01" stroke="#0000C8" stroke-width="2.4"/>
<circle cx="1218.33" cy="1184.31" r="6.0" fill="none" stroke="#0000C8" stroke-width="1.9"/>
</g>
<polygon points="708,1300.4 726,1297.6 726,1302.6 708,1303.2" fill="#007A00"/>
<circle cx="668.4" cy="1301.6" r="6.0" fill="none" stroke="#FF5A00" stroke-width="1.9"/>
<circle cx="668.4" cy="1301.2" r="6.0" fill="none" stroke="#C48C48" stroke-width="1.9"/>
<circle cx="668.4" cy="1300.7" r="6.0" fill="none" stroke="#0000C8" stroke-width="1.9"/>
<circle cx="682.2" cy="1301.6" r="6.0" fill="none" stroke="#C48C48" stroke-width="1.9"/>
<circle cx="682.2" cy="1301.4" r="6.0" fill="none" stroke="#0000C8" stroke-width="1.9"/>
</svg>
</body></html>
